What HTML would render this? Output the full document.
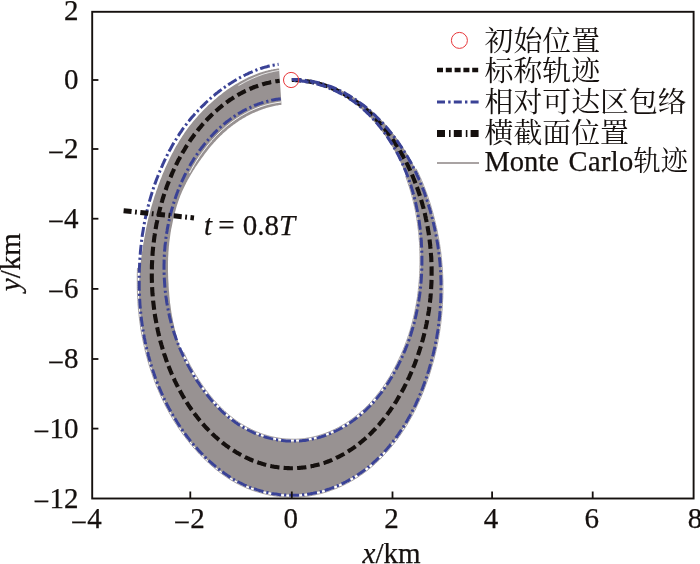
<!DOCTYPE html>
<html><head><meta charset="utf-8"><title>相对可达区</title>
<style>
html,body{margin:0;padding:0;background:#fff;}
svg{display:block;}
.n{font-family:"Liberation Serif","Noto Serif CJK SC",serif;font-size:29px;fill:#15100e;stroke:#15100e;stroke-width:0.25px;}
.c{font-family:"Liberation Serif","Noto Serif CJK SC",serif;font-size:28.9px;fill:#15100e;}
</style></head><body>
<svg width="700" height="564" viewBox="0 0 700 564">
<rect width="700" height="564" fill="#fff"/>
<path d="M291.8,79.1 L293.0,79.1 L294.3,79.1 L295.5,79.1 L296.7,79.2 L297.9,79.2 L299.2,79.3 L300.4,79.4 L301.6,79.4 L302.8,79.5 L304.1,79.7 L305.3,79.8 L306.5,79.9 L307.8,80.1 L309.0,80.3 L310.2,80.4 L311.4,80.6 L312.6,80.9 L313.9,81.1 L315.1,81.3 L316.3,81.6 L317.5,81.9 L318.7,82.2 L320.0,82.5 L321.2,82.8 L322.4,83.1 L323.6,83.5 L324.8,83.8 L326.0,84.2 L327.2,84.6 L328.4,85.0 L329.6,85.4 L330.8,85.9 L332.0,86.3 L333.2,86.8 L334.4,87.2 L335.5,87.7 L336.7,88.3 L337.9,88.8 L339.1,89.3 L340.3,89.9 L341.4,90.4 L342.6,91.0 L343.8,91.6 L344.9,92.2 L346.1,92.8 L347.2,93.5 L348.4,94.1 L349.5,94.8 L350.6,95.4 L351.8,96.1 L352.9,96.8 L354.0,97.5 L355.2,98.3 L356.3,99.0 L357.4,99.8 L358.5,100.5 L359.6,101.3 L360.7,102.1 L361.8,102.9 L362.9,103.7 L364.0,104.5 L365.1,105.4 L366.2,106.2 L367.2,107.1 L368.3,108.0 L369.4,108.8 L370.4,109.7 L371.5,110.6 L372.6,111.6 L373.6,112.5 L374.6,113.4 L375.7,114.4 L376.7,115.4 L377.7,116.4 L378.8,117.3 L379.8,118.4 L380.8,119.4 L381.8,120.4 L382.8,121.5 L383.7,122.5 L384.7,123.6 L385.7,124.7 L386.7,125.8 L387.6,126.9 L388.6,128.0 L389.5,129.1 L390.5,130.2 L391.4,131.4 L392.3,132.6 L393.2,133.7 L394.2,134.9 L395.1,136.1 L396.0,137.3 L396.9,138.5 L397.7,139.7 L398.6,141.0 L399.5,142.2 L400.4,143.4 L401.2,144.7 L402.1,146.0 L402.9,147.2 L403.8,148.5 L404.6,149.8 L405.5,151.1 L406.3,152.4 L407.1,153.8 L407.9,155.1 L408.7,156.5 L409.5,157.8 L410.3,159.2 L411.0,160.6 L411.8,161.9 L412.6,163.3 L413.3,164.7 L414.1,166.2 L414.8,167.6 L415.5,169.0 L416.2,170.5 L416.9,171.9 L417.6,173.4 L418.3,174.9 L419.0,176.3 L419.7,177.8 L420.3,179.3 L421.0,180.8 L421.6,182.4 L422.3,183.9 L422.9,185.4 L423.5,187.0 L424.1,188.5 L424.7,190.1 L425.3,191.6 L425.9,193.2 L426.4,194.8 L427.0,196.4 L427.5,198.0 L428.1,199.6 L428.6,201.2 L429.1,202.8 L429.6,204.4 L430.1,206.0 L430.6,207.7 L431.1,209.3 L431.5,211.0 L432.0,212.6 L432.4,214.3 L432.9,216.0 L433.3,217.6 L433.7,219.3 L434.2,221.0 L434.6,222.7 L435.0,224.4 L435.3,226.1 L435.7,227.8 L436.1,229.5 L436.5,231.2 L436.8,232.9 L437.1,234.6 L437.5,236.3 L437.8,238.1 L438.1,239.8 L438.4,241.6 L438.7,243.3 L439.0,245.1 L439.2,246.8 L439.5,248.6 L439.8,250.3 L440.0,252.1 L440.2,253.9 L440.4,255.6 L440.6,257.4 L440.8,259.2 L441.0,261.0 L441.2,262.8 L441.3,264.6 L441.4,266.4 L441.6,268.2 L441.7,270.0 L441.8,271.8 L441.9,273.6 L442.0,275.4 L442.0,277.2 L442.1,279.0 L442.2,280.8 L442.2,282.6 L442.2,284.5 L442.2,286.3 L442.2,288.1 L442.2,289.9 L442.2,291.7 L442.2,293.5 L442.1,295.4 L442.1,297.2 L442.0,299.0 L441.9,300.8 L441.8,302.7 L441.7,304.5 L441.6,306.3 L441.5,308.1 L441.4,309.9 L441.2,311.8 L441.1,313.6 L440.9,315.4 L440.7,317.2 L440.5,319.0 L440.3,320.9 L440.1,322.7 L439.9,324.5 L439.6,326.3 L439.4,328.1 L439.1,329.9 L438.9,331.7 L438.6,333.5 L438.3,335.3 L438.0,337.1 L437.7,338.9 L437.3,340.7 L437.0,342.5 L436.6,344.3 L436.3,346.0 L435.9,347.8 L435.5,349.6 L435.1,351.4 L434.7,353.1 L434.2,354.9 L433.8,356.6 L433.4,358.4 L432.9,360.1 L432.4,361.9 L432.0,363.6 L431.5,365.4 L431.0,367.1 L430.4,368.8 L429.9,370.5 L429.4,372.2 L428.8,374.0 L428.3,375.7 L427.7,377.4 L427.1,379.0 L426.6,380.7 L426.0,382.4 L425.4,384.1 L424.7,385.8 L424.1,387.4 L423.5,389.1 L422.8,390.7 L422.2,392.4 L421.5,394.0 L420.8,395.7 L420.2,397.3 L419.5,398.9 L418.7,400.5 L418.0,402.1 L417.3,403.7 L416.5,405.3 L415.8,406.9 L415.0,408.5 L414.2,410.0 L413.4,411.6 L412.6,413.1 L411.8,414.6 L410.9,416.1 L410.1,417.6 L409.2,419.1 L408.3,420.6 L407.4,422.0 L406.5,423.5 L405.6,424.9 L404.6,426.3 L403.7,427.7 L402.7,429.1 L401.8,430.5 L400.8,431.9 L399.8,433.3 L398.8,434.6 L397.8,435.9 L396.8,437.3 L395.8,438.6 L394.8,439.9 L393.7,441.2 L392.7,442.4 L391.6,443.7 L390.6,444.9 L389.5,446.2 L388.4,447.4 L387.3,448.6 L386.3,449.8 L385.1,450.9 L384.0,452.1 L382.9,453.3 L381.8,454.4 L380.7,455.5 L379.5,456.6 L378.4,457.7 L377.2,458.8 L376.0,459.8 L374.9,460.9 L373.7,461.9 L372.5,462.9 L371.3,463.9 L370.2,464.9 L369.0,465.9 L367.8,466.8 L366.6,467.8 L365.3,468.7 L364.1,469.6 L362.9,470.5 L361.7,471.4 L360.5,472.2 L359.2,473.1 L358.0,473.9 L356.7,474.7 L355.5,475.5 L354.2,476.3 L352.9,477.1 L351.7,477.9 L350.4,478.6 L349.1,479.3 L347.8,480.0 L346.5,480.7 L345.3,481.4 L344.0,482.0 L342.7,482.7 L341.4,483.3 L340.0,483.9 L338.7,484.5 L337.4,485.1 L336.1,485.6 L334.8,486.2 L333.4,486.7 L332.1,487.2 L330.8,487.7 L329.4,488.2 L328.1,488.6 L326.7,489.1 L325.4,489.5 L324.0,489.9 L322.7,490.3 L321.3,490.7 L320.0,491.0 L318.6,491.4 L317.3,491.7 L315.9,492.0 L314.5,492.3 L313.2,492.5 L311.8,492.8 L310.4,493.0 L309.0,493.2 L307.7,493.5 L306.3,493.6 L304.9,493.8 L303.5,494.0 L302.2,494.1 L300.8,494.2 L299.4,494.3 L298.0,494.4 L296.6,494.5 L295.3,494.5 L293.9,494.5 L292.5,494.6 L291.1,494.5 L289.7,494.5 L288.4,494.5 L287.0,494.4 L285.6,494.4 L284.2,494.3 L282.8,494.2 L281.5,494.1 L280.1,493.9 L278.7,493.8 L277.3,493.6 L276.0,493.4 L274.6,493.2 L273.2,493.0 L271.8,492.8 L270.5,492.6 L269.1,492.3 L267.7,492.1 L266.3,491.8 L265.0,491.5 L263.6,491.2 L262.2,490.8 L260.9,490.5 L259.5,490.1 L258.1,489.7 L256.8,489.3 L255.4,488.9 L254.1,488.5 L252.7,488.0 L251.4,487.6 L250.0,487.1 L248.7,486.6 L247.3,486.1 L246.0,485.5 L244.7,485.0 L243.4,484.4 L242.0,483.8 L240.7,483.2 L239.4,482.5 L238.1,481.9 L236.8,481.2 L235.5,480.5 L234.2,479.8 L232.9,479.1 L231.6,478.3 L230.3,477.6 L229.0,476.8 L227.8,476.0 L226.5,475.1 L225.3,474.3 L224.0,473.5 L222.8,472.6 L221.5,471.7 L220.3,470.8 L219.1,469.9 L217.8,469.0 L216.6,468.0 L215.4,467.0 L214.2,466.1 L213.0,465.1 L211.9,464.1 L210.7,463.0 L209.5,462.0 L208.4,460.9 L207.2,459.9 L206.1,458.8 L204.9,457.7 L203.8,456.6 L202.7,455.4 L201.6,454.3 L200.5,453.2 L199.4,452.0 L198.3,450.8 L197.2,449.6 L196.1,448.4 L195.1,447.2 L194.0,446.0 L193.0,444.8 L191.9,443.5 L190.9,442.3 L189.9,441.0 L188.8,439.7 L187.8,438.5 L186.8,437.2 L185.8,435.8 L184.8,434.5 L183.9,433.2 L182.9,431.8 L181.9,430.5 L181.0,429.1 L180.0,427.7 L179.1,426.3 L178.2,424.9 L177.3,423.5 L176.3,422.1 L175.4,420.7 L174.6,419.2 L173.7,417.8 L172.8,416.3 L172.0,414.8 L171.1,413.3 L170.3,411.8 L169.4,410.3 L168.6,408.8 L167.8,407.3 L167.0,405.8 L166.2,404.2 L165.4,402.7 L164.7,401.1 L163.9,399.5 L163.1,397.9 L162.4,396.4 L161.7,394.8 L161.0,393.2 L160.3,391.5 L159.6,389.9 L158.9,388.3 L158.2,386.6 L157.5,385.0 L156.9,383.3 L156.2,381.7 L155.6,380.0 L155.0,378.3 L154.4,376.6 L153.8,375.0 L153.2,373.3 L152.6,371.6 L152.0,369.8 L151.5,368.1 L150.9,366.4 L150.4,364.7 L149.9,362.9 L149.4,361.2 L148.9,359.4 L148.4,357.7 L147.9,355.9 L147.5,354.2 L147.0,352.4 L146.6,350.6 L146.2,348.8 L145.7,347.1 L145.3,345.3 L144.9,343.5 L144.6,341.7 L144.2,339.9 L143.8,338.1 L143.5,336.3 L143.1,334.5 L142.8,332.6 L142.5,330.8 L142.2,329.0 L141.9,327.2 L141.7,325.3 L141.4,323.5 L141.1,321.7 L140.9,319.8 L140.7,318.0 L140.5,316.2 L140.3,314.3 L140.1,312.5 L139.9,310.6 L139.7,308.8 L139.6,306.9 L139.5,305.1 L139.3,303.2 L139.2,301.4 L139.1,299.5 L139.1,297.7 L139.0,295.8 L139.0,294.0 L139.0,292.1 L139.0,290.3 L139.0,288.4 L139.0,286.6 L139.1,284.7 L139.2,282.9 L139.2,281.0 L139.3,279.2 L139.4,277.3 L139.6,275.5 L139.7,273.7 L139.8,271.8 L140.0,270.0 L140.2,268.2 L140.3,266.3 L140.5,264.5 L140.7,262.7 L140.9,260.9 L141.1,259.0 L141.4,257.2 L141.6,255.4 L141.9,253.6 L142.1,251.8 L142.4,250.0 L142.7,248.2 L142.9,246.4 L143.2,244.6 L143.5,242.8 L143.8,241.0 L144.1,239.2 L144.5,237.4 L144.8,235.7 L145.1,233.9 L145.5,232.1 L145.8,230.3 L146.1,228.6 L146.5,226.8 L146.9,225.1 L147.2,223.3 L147.6,221.6 L148.0,219.8 L148.4,218.1 L148.8,216.4 L149.3,214.6 L149.7,212.9 L150.2,211.2 L150.6,209.5 L151.1,207.8 L151.6,206.1 L152.1,204.4 L152.6,202.7 L153.1,201.1 L153.6,199.4 L154.1,197.7 L154.6,196.1 L155.2,194.4 L155.8,192.8 L156.3,191.1 L156.9,189.5 L157.5,187.9 L158.0,186.2 L158.6,184.6 L159.2,183.0 L159.8,181.4 L160.4,179.8 L161.1,178.2 L161.7,176.7 L162.3,175.1 L162.9,173.5 L163.6,171.9 L164.3,170.4 L164.9,168.8 L165.6,167.3 L166.3,165.8 L167.0,164.2 L167.7,162.7 L168.4,161.2 L169.1,159.7 L169.8,158.2 L170.5,156.7 L171.3,155.3 L172.0,153.8 L172.8,152.4 L173.6,150.9 L174.3,149.5 L175.1,148.1 L175.9,146.6 L176.7,145.2 L177.6,143.9 L178.4,142.5 L179.2,141.1 L180.0,139.7 L180.9,138.4 L181.8,137.1 L182.6,135.7 L183.5,134.4 L184.4,133.1 L185.3,131.8 L186.2,130.6 L187.1,129.3 L188.0,128.1 L188.9,126.8 L189.9,125.6 L190.8,124.4 L191.8,123.2 L192.7,122.0 L193.7,120.8 L194.7,119.7 L195.7,118.5 L196.7,117.4 L197.7,116.3 L198.7,115.1 L199.7,114.0 L200.7,113.0 L201.7,111.9 L202.8,110.8 L203.8,109.8 L204.8,108.7 L205.9,107.7 L206.9,106.7 L208.0,105.6 L209.1,104.6 L210.1,103.7 L211.2,102.7 L212.3,101.7 L213.4,100.8 L214.5,99.8 L215.6,98.9 L216.7,97.9 L217.8,97.0 L218.9,96.1 L220.0,95.2 L221.1,94.4 L222.2,93.5 L223.4,92.6 L224.5,91.8 L225.6,91.0 L226.8,90.1 L227.9,89.3 L229.1,88.5 L230.2,87.8 L231.4,87.0 L232.5,86.3 L233.7,85.5 L234.9,84.8 L236.0,84.1 L237.2,83.4 L238.4,82.7 L239.6,82.0 L240.8,81.3 L242.0,80.7 L243.2,80.0 L244.4,79.4 L245.6,78.8 L246.8,78.2 L248.0,77.6 L249.2,77.0 L250.4,76.5 L251.6,75.9 L252.9,75.4 L254.1,74.9 L255.3,74.4 L256.6,73.9 L257.8,73.5 L259.0,73.0 L260.3,72.6 L261.5,72.2 L262.8,71.8 L264.0,71.4 L265.3,71.1 L266.5,70.8 L267.8,70.4 L269.0,70.1 L270.3,69.9 L271.5,69.6 L272.8,69.4 L274.1,69.1 L275.3,68.9 L276.6,68.7 L277.8,68.5 L279.1,68.4 L281.5,104.8 L280.4,105.0 L279.4,105.1 L278.3,105.3 L277.3,105.4 L276.3,105.6 L275.3,105.8 L274.2,106.0 L273.2,106.2 L272.2,106.5 L271.2,106.7 L270.1,107.0 L269.1,107.2 L268.1,107.5 L267.1,107.8 L266.1,108.1 L265.1,108.4 L264.1,108.7 L263.1,109.1 L262.1,109.4 L261.1,109.8 L260.1,110.2 L259.1,110.6 L258.1,111.0 L257.1,111.4 L256.1,111.8 L255.1,112.2 L254.1,112.7 L253.1,113.1 L252.1,113.6 L251.1,114.1 L250.1,114.6 L249.2,115.1 L248.2,115.6 L247.2,116.1 L246.2,116.6 L245.3,117.2 L244.3,117.7 L243.3,118.3 L242.4,118.8 L241.4,119.4 L240.4,120.0 L239.5,120.6 L238.5,121.3 L237.6,121.9 L236.7,122.5 L235.7,123.2 L234.8,123.9 L233.8,124.5 L232.9,125.2 L232.0,125.9 L231.1,126.6 L230.1,127.4 L229.2,128.1 L228.3,128.8 L227.4,129.6 L226.5,130.4 L225.6,131.2 L224.7,131.9 L223.8,132.7 L222.9,133.6 L222.1,134.4 L221.2,135.2 L220.3,136.1 L219.4,136.9 L218.6,137.8 L217.7,138.7 L216.9,139.6 L216.0,140.5 L215.2,141.4 L214.3,142.3 L213.5,143.2 L212.7,144.2 L211.9,145.1 L211.1,146.1 L210.2,147.1 L209.4,148.0 L208.6,149.0 L207.8,150.0 L207.1,151.0 L206.3,152.1 L205.5,153.1 L204.7,154.1 L203.9,155.2 L203.2,156.2 L202.4,157.3 L201.6,158.3 L200.8,159.4 L200.1,160.5 L199.3,161.6 L198.5,162.7 L197.8,163.8 L197.0,164.9 L196.3,166.0 L195.5,167.1 L194.8,168.2 L194.1,169.4 L193.3,170.5 L192.6,171.7 L191.9,172.9 L191.2,174.1 L190.5,175.3 L189.8,176.5 L189.1,177.7 L188.4,178.9 L187.7,180.1 L187.1,181.4 L186.4,182.6 L185.8,183.9 L185.2,185.1 L184.5,186.4 L183.9,187.7 L183.3,189.0 L182.7,190.3 L182.1,191.6 L181.5,192.9 L181.0,194.3 L180.4,195.6 L179.9,197.0 L179.4,198.3 L178.9,199.7 L178.4,201.1 L177.9,202.4 L177.5,203.8 L177.0,205.2 L176.6,206.6 L176.2,208.1 L175.8,209.5 L175.4,210.9 L175.0,212.3 L174.6,213.8 L174.2,215.2 L173.9,216.6 L173.5,218.1 L173.2,219.5 L172.9,221.0 L172.6,222.5 L172.3,223.9 L172.0,225.4 L171.7,226.9 L171.4,228.3 L171.1,229.8 L170.9,231.3 L170.6,232.8 L170.4,234.3 L170.2,235.8 L170.0,237.3 L169.8,238.8 L169.6,240.3 L169.4,241.8 L169.2,243.3 L169.1,244.8 L168.9,246.3 L168.8,247.8 L168.7,249.3 L168.6,250.8 L168.4,252.4 L168.4,253.9 L168.3,255.4 L168.2,256.9 L168.1,258.4 L168.1,259.9 L168.0,261.5 L168.0,263.0 L168.0,264.5 L168.0,266.0 L168.0,267.5 L168.0,269.1 L168.0,270.6 L168.0,272.1 L168.1,273.6 L168.1,275.1 L168.2,276.6 L168.2,278.2 L168.3,279.7 L168.4,281.2 L168.5,282.7 L168.6,284.2 L168.6,285.7 L168.7,287.2 L168.8,288.7 L168.9,290.2 L169.1,291.7 L169.2,293.2 L169.3,294.7 L169.4,296.2 L169.6,297.7 L169.7,299.2 L169.9,300.7 L170.0,302.2 L170.2,303.7 L170.4,305.1 L170.6,306.6 L170.8,308.1 L171.0,309.6 L171.2,311.0 L171.4,312.5 L171.7,313.9 L171.9,315.4 L172.2,316.8 L172.5,318.3 L172.8,319.7 L173.0,321.2 L173.3,322.6 L173.7,324.0 L174.0,325.4 L174.3,326.9 L174.6,328.3 L175.0,329.7 L175.3,331.1 L175.7,332.5 L176.0,333.9 L176.4,335.3 L176.8,336.7 L177.1,338.1 L177.5,339.4 L177.9,340.8 L178.3,342.2 L178.8,343.5 L179.2,344.9 L179.6,346.2 L180.1,347.6 L180.5,348.9 L181.0,350.2 L181.5,351.6 L182.0,352.9 L182.5,354.2 L183.0,355.5 L183.5,356.7 L184.0,358.0 L184.6,359.3 L185.2,360.5 L185.7,361.8 L186.3,363.0 L186.9,364.2 L187.6,365.4 L188.2,366.6 L188.8,367.8 L189.5,369.0 L190.1,370.2 L190.8,371.4 L191.5,372.5 L192.1,373.7 L192.8,374.8 L193.5,376.0 L194.2,377.1 L194.9,378.2 L195.6,379.3 L196.3,380.4 L197.0,381.5 L197.7,382.6 L198.5,383.7 L199.2,384.8 L199.9,385.9 L200.7,386.9 L201.4,388.0 L202.2,389.0 L202.9,390.1 L203.7,391.1 L204.4,392.1 L205.2,393.1 L206.0,394.1 L206.8,395.1 L207.5,396.1 L208.3,397.1 L209.1,398.1 L209.9,399.1 L210.7,400.0 L211.5,401.0 L212.4,401.9 L213.2,402.9 L214.0,403.8 L214.8,404.7 L215.7,405.6 L216.5,406.5 L217.3,407.4 L218.2,408.3 L219.1,409.1 L219.9,410.0 L220.8,410.8 L221.7,411.7 L222.5,412.5 L223.4,413.3 L224.3,414.1 L225.2,414.9 L226.1,415.7 L227.0,416.5 L227.9,417.2 L228.8,418.0 L229.7,418.7 L230.6,419.4 L231.6,420.1 L232.5,420.8 L233.4,421.5 L234.4,422.2 L235.3,422.9 L236.3,423.5 L237.2,424.2 L238.2,424.8 L239.1,425.4 L240.1,426.0 L241.1,426.6 L242.0,427.2 L243.0,427.8 L244.0,428.3 L245.0,428.9 L245.9,429.4 L246.9,429.9 L247.9,430.5 L248.9,431.0 L249.9,431.5 L250.9,431.9 L251.9,432.4 L252.9,432.9 L253.9,433.3 L254.9,433.7 L255.9,434.1 L256.9,434.6 L258.0,435.0 L259.0,435.3 L260.0,435.7 L261.0,436.1 L262.0,436.4 L263.1,436.8 L264.1,437.1 L265.1,437.4 L266.2,437.7 L267.2,438.0 L268.2,438.3 L269.3,438.6 L270.3,438.9 L271.3,439.1 L272.4,439.4 L273.4,439.6 L274.5,439.8 L275.5,440.0 L276.5,440.2 L277.6,440.4 L278.6,440.5 L279.7,440.7 L280.7,440.8 L281.8,441.0 L282.8,441.1 L283.9,441.2 L284.9,441.3 L286.0,441.4 L287.1,441.4 L288.1,441.5 L289.2,441.5 L290.2,441.6 L291.3,441.6 L292.3,441.6 L293.4,441.6 L294.4,441.6 L295.5,441.6 L296.6,441.6 L297.6,441.5 L298.7,441.5 L299.7,441.4 L300.8,441.3 L301.8,441.2 L302.9,441.1 L303.9,441.0 L305.0,440.9 L306.0,440.7 L307.1,440.6 L308.1,440.4 L309.2,440.2 L310.2,440.0 L311.3,439.8 L312.3,439.6 L313.4,439.4 L314.4,439.2 L315.5,438.9 L316.5,438.6 L317.6,438.4 L318.6,438.1 L319.6,437.8 L320.7,437.5 L321.7,437.1 L322.7,436.8 L323.8,436.5 L324.8,436.1 L325.8,435.7 L326.8,435.4 L327.9,435.0 L328.9,434.6 L329.9,434.1 L330.9,433.7 L331.9,433.3 L332.9,432.8 L333.9,432.4 L335.0,431.9 L336.0,431.4 L337.0,430.9 L338.0,430.4 L339.0,429.9 L340.0,429.4 L340.9,428.9 L341.9,428.3 L342.9,427.7 L343.9,427.2 L344.9,426.6 L345.9,426.0 L346.8,425.4 L347.8,424.8 L348.8,424.1 L349.7,423.5 L350.7,422.9 L351.7,422.2 L352.6,421.5 L353.6,420.8 L354.5,420.1 L355.4,419.4 L356.4,418.7 L357.3,418.0 L358.2,417.3 L359.2,416.5 L360.1,415.7 L361.0,415.0 L361.9,414.2 L362.8,413.4 L363.7,412.6 L364.6,411.8 L365.5,410.9 L366.4,410.1 L367.3,409.2 L368.2,408.4 L369.0,407.5 L369.9,406.6 L370.7,405.7 L371.6,404.8 L372.4,403.9 L373.2,402.9 L374.1,402.0 L374.9,401.0 L375.7,400.0 L376.5,399.0 L377.2,398.0 L378.0,397.0 L378.8,396.0 L379.6,394.9 L380.3,393.9 L381.1,392.9 L381.8,391.8 L382.6,390.7 L383.3,389.6 L384.0,388.5 L384.7,387.4 L385.4,386.3 L386.1,385.2 L386.8,384.1 L387.5,383.0 L388.2,381.8 L388.9,380.7 L389.6,379.5 L390.2,378.3 L390.9,377.2 L391.5,376.0 L392.2,374.8 L392.8,373.6 L393.4,372.4 L394.1,371.2 L394.7,370.0 L395.3,368.7 L395.9,367.5 L396.5,366.3 L397.1,365.0 L397.7,363.8 L398.3,362.5 L398.9,361.3 L399.4,360.0 L400.0,358.7 L400.6,357.5 L401.2,356.2 L401.7,354.9 L402.3,353.6 L402.9,352.3 L403.4,351.0 L403.9,349.7 L404.5,348.4 L405.0,347.0 L405.5,345.7 L406.1,344.4 L406.6,343.0 L407.1,341.7 L407.5,340.3 L408.0,338.9 L408.5,337.6 L409.0,336.2 L409.4,334.8 L409.9,333.4 L410.3,332.0 L410.7,330.6 L411.2,329.2 L411.6,327.8 L412.0,326.3 L412.4,324.9 L412.8,323.5 L413.1,322.0 L413.5,320.6 L413.9,319.1 L414.2,317.7 L414.6,316.2 L414.9,314.7 L415.2,313.3 L415.5,311.8 L415.8,310.3 L416.1,308.8 L416.4,307.3 L416.7,305.8 L417.0,304.3 L417.2,302.8 L417.5,301.3 L417.7,299.8 L417.9,298.3 L418.2,296.8 L418.4,295.3 L418.6,293.7 L418.8,292.2 L419.0,290.7 L419.1,289.1 L419.3,287.6 L419.5,286.1 L419.6,284.5 L419.7,283.0 L419.9,281.4 L420.0,279.9 L420.1,278.3 L420.2,276.8 L420.3,275.2 L420.4,273.6 L420.4,272.1 L420.5,270.5 L420.6,269.0 L420.6,267.4 L420.6,265.8 L420.7,264.2 L420.7,262.7 L420.7,261.1 L420.7,259.5 L420.7,257.9 L420.7,256.4 L420.7,254.8 L420.6,253.2 L420.6,251.6 L420.5,250.1 L420.5,248.5 L420.4,246.9 L420.3,245.3 L420.3,243.7 L420.2,242.1 L420.0,240.6 L419.9,239.0 L419.8,237.4 L419.7,235.8 L419.5,234.2 L419.4,232.7 L419.2,231.1 L419.0,229.5 L418.8,227.9 L418.6,226.3 L418.4,224.8 L418.2,223.2 L418.0,221.6 L417.7,220.1 L417.5,218.5 L417.2,216.9 L417.0,215.4 L416.7,213.8 L416.4,212.2 L416.1,210.7 L415.8,209.1 L415.4,207.6 L415.1,206.0 L414.8,204.5 L414.4,202.9 L414.1,201.4 L413.7,199.9 L413.3,198.3 L412.9,196.8 L412.5,195.3 L412.1,193.8 L411.7,192.3 L411.2,190.8 L410.8,189.3 L410.3,187.8 L409.9,186.3 L409.4,184.8 L408.9,183.3 L408.4,181.8 L407.9,180.4 L407.3,178.9 L406.8,177.4 L406.3,176.0 L405.7,174.6 L405.2,173.1 L404.6,171.7 L404.0,170.3 L403.4,168.9 L402.8,167.5 L402.2,166.1 L401.6,164.7 L400.9,163.3 L400.3,161.9 L399.6,160.5 L399.0,159.2 L398.3,157.8 L397.6,156.5 L396.9,155.1 L396.2,153.8 L395.5,152.5 L394.8,151.2 L394.1,149.9 L393.3,148.6 L392.6,147.3 L391.8,146.0 L391.1,144.8 L390.3,143.5 L389.5,142.3 L388.7,141.0 L387.9,139.8 L387.1,138.6 L386.3,137.4 L385.5,136.2 L384.6,135.0 L383.8,133.9 L382.9,132.7 L382.1,131.6 L381.2,130.4 L380.3,129.3 L379.5,128.2 L378.6,127.1 L377.7,126.0 L376.8,124.9 L375.9,123.8 L375.0,122.7 L374.0,121.7 L373.1,120.6 L372.2,119.6 L371.3,118.6 L370.3,117.6 L369.3,116.6 L368.4,115.6 L367.4,114.6 L366.4,113.6 L365.5,112.7 L364.5,111.8 L363.5,110.8 L362.5,109.9 L361.5,109.0 L360.5,108.2 L359.4,107.3 L358.4,106.4 L357.4,105.6 L356.3,104.8 L355.3,104.0 L354.2,103.2 L353.2,102.4 L352.1,101.6 L351.0,100.9 L350.0,100.1 L348.9,99.4 L347.8,98.7 L346.7,98.0 L345.6,97.3 L344.5,96.6 L343.4,96.0 L342.3,95.3 L341.2,94.7 L340.1,94.1 L339.0,93.5 L337.8,92.9 L336.7,92.3 L335.6,91.7 L334.4,91.2 L333.3,90.7 L332.2,90.1 L331.0,89.6 L329.9,89.1 L328.7,88.7 L327.6,88.2 L326.4,87.7 L325.2,87.3 L324.1,86.9 L322.9,86.5 L321.7,86.1 L320.5,85.7 L319.4,85.3 L318.2,85.0 L317.0,84.6 L315.8,84.3 L314.6,84.0 L313.5,83.7 L312.3,83.4 L311.1,83.1 L309.9,82.9 L308.7,82.6 L307.5,82.4 L306.3,82.2 L305.1,82.0 L303.9,81.8 L302.7,81.7 L301.5,81.5 L300.3,81.4 L299.1,81.3 L297.8,81.1 L296.6,81.1 L295.4,81.0 L294.2,80.9 L293.0,80.9 L291.8,80.9Z" fill="#989292"/>
<path d="M416.1,168.7 L416.9,170.2 L417.6,171.6 L418.3,173.1 L419.0,174.6 L419.6,176.1 L420.3,177.5 L421.0,179.1 L421.6,180.6 L422.3,182.1 L422.9,183.6 L423.5,185.2 L424.1,186.7 L424.8,188.3 L425.3,189.8 L425.9,191.4 L426.5,193.0 L427.1,194.6 L427.6,196.1 L428.2,197.7 L428.7,199.4 L429.2,201.0 L429.8,202.6 L430.3,204.2 L430.8,205.8 L431.3,207.5 L431.7,209.1 L432.2,210.8 L432.7,212.4 L433.1,214.1 L433.6,215.8 L434.0,217.4 L434.4,219.1 L434.8,220.8 L435.2,222.5 L435.6,224.2 L436.0,225.9 L436.4,227.6 L436.8,229.3 L437.1,231.0 L437.5,232.8 L437.8,234.5 L438.2,236.2 L438.5,237.9 L438.8,239.7 L439.1,241.4 L439.4,243.2 L439.7,244.9 L439.9,246.7 L440.2,248.5 L440.4,250.2 L440.7,252.0 L440.9,253.8 L441.1,255.6 L441.3,257.4 L441.5,259.1 L441.7,260.9 L441.8,262.7 L442.0,264.5 L442.1,266.3 L442.3,268.1 L442.4,269.9 L442.5,271.7 L442.6,273.6 L442.7,275.4 L442.7,277.2 L442.8,279.0 L442.9,280.8 L442.9,282.6 L442.9,284.4 L442.9,286.3 L442.9,288.1 L442.9,289.9 L442.9,291.7 L442.9,293.6 L442.8,295.4 L442.8,297.2 L442.7,299.0 L442.6,300.9 L442.5,302.7 L442.4,304.5 L442.3,306.3 L442.2,308.2 L442.1,310.0 L441.9,311.8 L441.8,313.6 L441.6,315.5 L441.4,317.3 L441.2,319.1 L441.0,320.9 L440.8,322.8 L440.6,324.6 L440.3,326.4 L440.1,328.2 L439.8,330.0 L439.6,331.8 L439.3,333.6 L439.0,335.4 L438.7,337.2 L438.3,339.0 L438.0,340.8 L437.7,342.6 L437.3,344.4 L436.9,346.2 L436.6,348.0 L436.2,349.7 L435.8,351.5 L435.4,353.3 L434.9,355.1 L434.5,356.8 L434.0,358.6 L433.6,360.3 L433.1,362.1 L432.6,363.8 L432.1,365.6 L431.6,367.3 L431.1,369.0 L430.6,370.7 L430.1,372.5 L429.5,374.2 L429.0,375.9 L428.4,377.6 L427.8,379.3 L427.2,381.0 L426.6,382.7 L426.0,384.3 L425.4,386.0 L424.8,387.7 L424.1,389.3 L423.5,391.0 L422.8,392.7 L422.2,394.3 L421.5,395.9 L420.8,397.6 L420.1,399.2 L419.4,400.8 L418.7,402.4 L417.9,404.0 L417.2,405.6 L416.4,407.2 L415.7,408.8 L414.9,410.4 L414.1,411.9 L413.3,413.5 L412.5,415.0 L411.7,416.5 L410.8,418.0 L410.0,419.5 L409.1,421.0 L408.2,422.5 L407.4,424.0 L406.5,425.5 L405.6,426.9 L404.7,428.4 L403.7,429.8 L402.8,431.2 L401.9,432.6 L400.9,434.0 L400.0,435.4 L399.0,436.8 L398.0,438.1 L397.0,439.5 L396.0,440.8 L395.0,442.1 L394.0,443.4 L393.0,444.7 L391.9,446.0 L390.9,447.3 L389.8,448.5 L388.8,449.8 L387.7,451.0 L386.6,452.2 L385.5,453.4 L384.4,454.6 L383.3,455.8 L382.2,457.0 L381.0,458.1 L379.9,459.3 L378.8,460.4 L377.6,461.5 L376.5,462.6 L375.3,463.6 L374.1,464.7 L372.9,465.7 L371.7,466.7 L370.5,467.8 L369.3,468.7 L368.1,469.7 L366.9,470.7 L365.6,471.6 L364.4,472.5 L363.2,473.4 L361.9,474.3 L360.6,475.2 L359.4,476.0 L358.1,476.9 L356.8,477.7 L355.5,478.5 L354.3,479.3 L353.0,480.0 L351.7,480.8 L350.4,481.5 L349.1,482.3 L347.7,483.0 L346.4,483.7 L345.1,484.3 L343.8,485.0 L342.5,485.6 L341.1,486.3 L339.8,486.9 L338.4,487.4 L337.1,488.0 L335.7,488.6 L334.4,489.1 L333.0,489.6 L331.6,490.1 L330.3,490.6 L328.9,491.1 L327.5,491.6 L326.2,492.0 L324.8,492.4 L323.4,492.8 L322.0,493.2 L320.6,493.6 L319.2,493.9 L317.8,494.2 L316.4,494.5 L315.1,494.8 L313.7,495.1 L312.3,495.4 L310.9,495.6 L309.4,495.9 L308.0,496.1 L306.6,496.3 L305.2,496.4 L303.8,496.6 L302.4,496.7 L301.0,496.9 L299.6,497.0 L298.2,497.0 L296.8,497.1 L295.3,497.2 L293.9,497.2 L292.5,497.2 L291.1,497.2 L289.7,497.2 L288.3,497.2 L286.9,497.1 L285.4,497.0 L284.0,496.9 L282.6,496.8 L281.2,496.7 L279.8,496.6 L278.4,496.4 L277.0,496.2 L275.6,496.0 L274.2,495.8 L272.8,495.6 L271.4,495.3 L270.0,495.1 L268.6,494.8 L267.2,494.5 L265.8,494.2 L264.4,493.8 L263.0,493.5 L261.6,493.1 L260.2,492.7 L258.8,492.3 L257.5,491.9 L256.1,491.5 L254.7,491.0 L253.3,490.6 L252.0,490.1 L250.6,489.6 L249.3,489.1 L247.9,488.5 L246.5,488.0 L245.2,487.4 L243.9,486.8 L242.5,486.2 L241.2,485.5 L239.8,484.9 L238.5,484.2 L237.2,483.5 L235.9,482.8 L234.6,482.1 L233.3,481.3 L232.0,480.6 L230.7,479.8 L229.4,479.0 L228.1,478.2 L226.9,477.3 L225.6,476.5 L224.3,475.6 L223.1,474.7 L221.8,473.8 L220.6,472.9 L219.4,472.0 L218.2,471.0 L216.9,470.1 L215.7,469.1 L214.5,468.1 L213.3,467.1 L212.1,466.1 L211.0,465.1 L209.8,464.0 L208.6,463.0 L207.5,461.9 L206.3,460.8 L205.2,459.7 L204.0,458.6 L202.9,457.5 L201.8,456.4 L200.7,455.2 L199.5,454.1 L198.4,452.9 L197.3,451.7 L196.3,450.5 L195.2,449.3 L194.1,448.1 L193.0,446.9 L192.0,445.6 L190.9,444.4 L189.9,443.1 L188.8,441.8 L187.8,440.6 L186.8,439.3 L185.8,437.9 L184.8,436.6 L183.8,435.3 L182.8,434.0 L181.8,432.6 L180.9,431.2 L179.9,429.9 L179.0,428.5 L178.0,427.1 L177.1,425.6 L176.2,424.2 L175.2,422.8 L174.3,421.4 L173.4,419.9 L172.6,418.4 L171.7,417.0 L170.8,415.5 L170.0,414.0 L169.1,412.5 L168.3,411.0 L167.5,409.4 L166.6,407.9 L165.8,406.4 L165.0,404.8 L164.3,403.2 L163.5,401.7 L162.7,400.1 L162.0,398.5 L161.2,396.9 L160.5,395.3 L159.8,393.7 L159.1,392.1 L158.4,390.4 L157.7,388.8 L157.0,387.1 L156.3,385.5 L155.7,383.8 L155.0,382.1 L154.4,380.5 L153.8,378.8 L153.1,377.1 L152.5,375.4 L152.0,373.7 L151.4,372.0 L150.8,370.2 L150.3,368.5 L149.7,366.8 L149.2,365.0 L148.7,363.3 L148.1,361.5 L147.6,359.8 L147.2,358.0 L146.7,356.3 L146.2,354.5 L145.8,352.7 L145.3,350.9 L144.9,349.1 L144.5,347.4 L144.1,345.6 L143.7,343.8 L143.3,341.9 L142.9,340.1 L142.6,338.3 L142.2,336.5 L141.9,334.7 L141.5,332.9 L141.2,331.0 L140.9,329.2 L140.6,327.4 L140.4,325.5 L140.1,323.7 L139.9,321.9 L139.6,320.0 L139.4,318.2 L139.2,316.3 L139.0,314.5 L138.8,312.6 L138.6,310.8 L138.4,308.9 L138.3,307.1 L138.1,305.2 L138.0,303.3 L137.9,301.5 L137.8,299.6 L137.7,297.8 L137.6,295.9 L137.5,294.0 L137.4,292.2 L137.4,290.3 L137.3,288.5 L137.3,286.6 L137.3,284.8 L137.3,282.9 L137.3,281.0 L137.3,279.2 L137.3,277.3 L137.3,275.5 L137.3,273.6 L137.4,271.8 L137.4,269.9 L137.5,268.1" fill="none" stroke="#989292" stroke-width="0.9"/>
<path d="M405.6,176.2 L406.2,177.7 L406.7,179.1 L407.2,180.6 L407.7,182.1 L408.2,183.5 L408.7,185.0 L409.2,186.5 L409.7,188.0 L410.1,189.5 L410.6,191.0 L411.0,192.5 L411.4,194.0 L411.8,195.5 L412.2,197.0 L412.6,198.5 L413.0,200.0 L413.4,201.6 L413.7,203.1 L414.1,204.6 L414.4,206.2 L414.8,207.7 L415.1,209.3 L415.4,210.8 L415.7,212.4 L416.0,213.9 L416.3,215.5 L416.5,217.0 L416.8,218.6 L417.0,220.2 L417.3,221.7 L417.5,223.3 L417.7,224.9 L417.9,226.4 L418.1,228.0 L418.3,229.6 L418.5,231.2 L418.7,232.7 L418.8,234.3 L419.0,235.9 L419.1,237.5 L419.2,239.0 L419.3,240.6 L419.5,242.2 L419.6,243.8 L419.6,245.3 L419.7,246.9 L419.8,248.5 L419.8,250.1 L419.9,251.7 L419.9,253.2 L420.0,254.8 L420.0,256.4 L420.0,258.0 L420.0,259.5 L420.0,261.1 L420.0,262.7 L420.0,264.2 L419.9,265.8 L419.9,267.4 L419.9,268.9 L419.8,270.5 L419.7,272.1 L419.7,273.6 L419.6,275.2 L419.5,276.7 L419.4,278.3 L419.3,279.8 L419.2,281.4 L419.0,282.9 L418.9,284.5 L418.8,286.0 L418.6,287.5 L418.4,289.1 L418.3,290.6 L418.1,292.1 L417.9,293.6 L417.7,295.2 L417.5,296.7 L417.3,298.2 L417.0,299.7 L416.8,301.2 L416.5,302.7 L416.3,304.2 L416.0,305.7 L415.7,307.2 L415.4,308.7 L415.2,310.2 L414.8,311.6 L414.5,313.1 L414.2,314.6 L413.9,316.0 L413.5,317.5 L413.2,319.0 L412.8,320.4 L412.5,321.8 L412.1,323.3 L411.7,324.7 L411.3,326.1 L410.9,327.6 L410.5,329.0 L410.1,330.4 L409.6,331.8 L409.2,333.2 L408.8,334.6 L408.3,335.9 L407.8,337.3 L407.4,338.7 L406.9,340.1 L406.4,341.4 L405.9,342.8 L405.4,344.1 L404.9,345.4 L404.4,346.8 L403.8,348.1 L403.3,349.4 L402.8,350.7 L402.2,352.0 L401.6,353.3 L401.1,354.6 L400.5,355.9 L399.9,357.1 L399.3,358.4 L398.7,359.7 L398.1,360.9 L397.5,362.2 L396.9,363.4 L396.3,364.6 L395.7,365.9 L395.0,367.1 L394.4,368.3 L393.8,369.5 L393.1,370.7 L392.5,371.9 L391.8,373.0 L391.1,374.2 L390.5,375.4 L389.8,376.5 L389.1,377.7 L388.4,378.8 L387.7,379.9 L387.0,381.0 L386.3,382.2 L385.6,383.3 L384.8,384.3 L384.1,385.4 L383.4,386.5 L382.6,387.6 L381.9,388.6 L381.1,389.7 L380.3,390.7 L379.6,391.7 L378.8,392.7 L378.0,393.7 L377.2,394.7 L376.4,395.7 L375.6,396.7 L374.8,397.7 L374.0,398.6 L373.2,399.5 L372.4,400.5 L371.6,401.4 L370.7,402.3 L369.9,403.2 L369.1,404.1 L368.2,405.0 L367.3,405.8 L366.5,406.7 L365.6,407.5 L364.8,408.4 L363.9,409.2 L363.0,410.0 L362.1,410.8 L361.2,411.6 L360.3,412.4 L359.5,413.1 L358.6,413.9 L357.6,414.6 L356.7,415.4 L355.8,416.1 L354.9,416.8 L354.0,417.5 L353.1,418.2 L352.1,418.9 L351.2,419.6 L350.3,420.2 L349.3,420.9 L348.4,421.5 L347.5,422.1 L346.5,422.8 L345.6,423.4 L344.6,424.0 L343.6,424.5 L342.7,425.1 L341.7,425.7 L340.8,426.2 L339.8,426.7 L338.8,427.3 L337.8,427.8 L336.9,428.3 L335.9,428.8 L334.9,429.3 L333.9,429.7 L332.9,430.2 L332.0,430.6 L331.0,431.1 L330.0,431.5 L329.0,431.9 L328.0,432.3 L327.0,432.7 L326.0,433.1 L325.0,433.5 L324.0,433.8 L323.0,434.2 L322.0,434.5 L321.0,434.9 L320.0,435.2 L318.9,435.5 L317.9,435.8 L316.9,436.1 L315.9,436.3 L314.9,436.6 L313.9,436.8 L312.9,437.1 L311.8,437.3 L310.8,437.5 L309.8,437.7 L308.8,437.9 L307.8,438.0 L306.7,438.2 L305.7,438.4 L304.7,438.5 L303.7,438.6 L302.6,438.7 L301.6,438.8 L300.6,438.9 L299.5,439.0 L298.5,439.1 L297.5,439.1 L296.5,439.2 L295.4,439.2 L294.4,439.2 L293.4,439.2 L292.3,439.2 L291.3,439.2 L290.3,439.2 L289.3,439.1 L288.2,439.1 L287.2,439.0 L286.2,439.0 L285.1,438.9 L284.1,438.8 L283.1,438.7 L282.1,438.6 L281.0,438.5 L280.0,438.3 L279.0,438.2 L278.0,438.0 L277.0,437.8 L275.9,437.6 L274.9,437.4 L273.9,437.2 L272.9,437.0 L271.9,436.8 L270.9,436.5 L269.9,436.3 L268.8,436.0 L267.8,435.7 L266.8,435.4 L265.8,435.1 L264.8,434.8 L263.8,434.5 L262.8,434.2 L261.8,433.8 L260.8,433.5 L259.8,433.1 L258.8,432.7 L257.8,432.3 L256.8,431.9 L255.9,431.5 L254.9,431.1 L253.9,430.7 L252.9,430.2 L251.9,429.8 L251.0,429.3 L250.0,428.8 L249.0,428.3 L248.0,427.8 L247.1,427.3 L246.1,426.8 L245.2,426.2 L244.2,425.7 L243.3,425.1 L242.3,424.6 L241.4,424.0 L240.4,423.4 L239.5,422.8 L238.5,422.2 L237.6,421.5 L236.7,420.9 L235.8,420.3 L234.8,419.6 L233.9,418.9 L233.0,418.2 L232.1,417.5 L231.2,416.8 L230.3,416.1 L229.4,415.4 L228.5,414.6 L227.7,413.9 L226.8,413.1 L225.9,412.3 L225.0,411.5 L224.2,410.7 L223.3,409.9 L222.4,409.1 L221.6,408.3 L220.8,407.4 L219.9,406.6 L219.1,405.7 L218.2,404.9 L217.4,404.0 L216.6,403.1 L215.8,402.2 L215.0,401.3 L214.2,400.4 L213.4,399.4 L212.6,398.5 L211.8,397.5 L211.0,396.6 L210.2,395.6 L209.4,394.6 L208.7,393.7 L207.9,392.7 L207.1,391.7 L206.4,390.7 L205.6,389.7 L204.9,388.7 L204.1,387.6 L203.4,386.6 L202.6,385.5 L201.9,384.5 L201.2,383.4 L200.5,382.4 L199.7,381.3 L199.0,380.2 L198.3,379.1 L197.6,378.0 L196.9,376.9 L196.3,375.8 L195.6,374.7 L194.9,373.6 L194.2,372.5 L193.5,371.3 L192.9,370.2 L192.2,369.0 L191.6,367.9 L190.9,366.7 L190.3,365.5 L189.6,364.3 L189.0,363.1 L188.4,362.0 L187.8,360.7 L187.1,359.5 L186.5,358.3 L185.9,357.1 L185.3,355.9 L184.8,354.6 L184.2,353.4 L183.6,352.1" fill="none" stroke="#989292" stroke-width="0.9"/>
<path d="M238.5,85.6 L239.7,84.9 L240.9,84.3 L242.0,83.6 L243.2,83.0 L244.4,82.3 L245.6,81.7 L246.7,81.1 L247.9,80.5 L249.1,79.9 L250.3,79.4 L251.5,78.8 L252.7,78.3 L253.9,77.8 L255.1,77.2 L256.3,76.8 L257.5,76.3 L258.7,75.8 L259.9,75.4 L261.1,74.9 L262.3,74.5 L263.5,74.1 L264.7,73.7 L265.9,73.4 L267.2,73.0 L268.4,72.7 L269.6,72.4 L270.8,72.1 L272.0,71.8 L273.3,71.5 L274.5,71.3 L275.7,71.0 L276.9,70.8 L278.2,70.6 L279.4,70.5" fill="none" stroke="#fff" stroke-width="0.8"/>
<path d="M189.5,173.2 L190.1,171.9 L190.8,170.7 L191.4,169.5 L192.1,168.3 L192.8,167.1 L193.5,165.9 L194.2,164.7 L194.9,163.6 L195.6,162.4 L196.3,161.3 L197.0,160.1 L197.8,159.0 L198.5,157.9 L199.2,156.7 L200.0,155.6 L200.8,154.5 L201.5,153.5 L202.3,152.4 L203.1,151.3 L203.9,150.3 L204.7,149.2 L205.5,148.2 L206.3,147.2 L207.1,146.1 L207.9,145.1 L208.7,144.1 L209.5,143.2 L210.4,142.2 L211.2,141.2 L212.1,140.3 L212.9,139.3 L213.8,138.4 L214.6,137.5 L215.5,136.5 L216.4,135.6 L217.3,134.8 L218.1,133.9 L219.0,133.0 L219.9,132.1 L220.8,131.3 L221.7,130.5 L222.6,129.6 L223.6,128.8 L224.5,128.0 L225.4,127.2 L226.3,126.4 L227.3,125.7 L228.2,124.9 L229.1,124.2 L230.1,123.4 L231.0,122.7 L232.0,122.0 L232.9,121.3 L233.9,120.6 L234.9,119.9 L235.8,119.3 L236.8,118.6 L237.8,118.0 L238.8,117.4 L239.7,116.7 L240.7,116.1 L241.7,115.5 L242.7,115.0 L243.7,114.4 L244.7,113.8 L245.7,113.3 L246.7,112.8 L247.7,112.2 L248.7,111.7 L249.7,111.2 L250.8,110.7 L251.8,110.3 L252.8,109.8 L253.8,109.4 L254.9,108.9 L255.9,108.5 L256.9,108.1 L258.0,107.7 L259.0,107.3 L260.0,106.9 L261.1,106.5 L262.1,106.2 L263.2,105.9 L264.2,105.5 L265.2,105.2 L266.3,104.9 L267.3,104.6 L268.4,104.4 L269.4,104.1 L270.5,103.8 L271.6,103.6 L272.6,103.4 L273.7,103.2 L274.7,103.0 L275.8,102.8 L276.9,102.6 L277.9,102.4 L279.0,102.3 L280.0,102.1 L281.1,102.0" fill="none" stroke="#fff" stroke-width="1"/>
<path d="M291.8,80.0 L293.0,80.0 L294.2,80.0 L295.5,80.1 L296.7,80.1 L297.9,80.2 L299.1,80.3 L300.3,80.4 L301.6,80.5 L302.8,80.6 L304.0,80.7 L305.2,80.9 L306.4,81.1 L307.6,81.2 L308.8,81.4 L310.0,81.7 L311.3,81.9 L312.5,82.1 L313.7,82.4 L314.9,82.7 L316.1,82.9 L317.3,83.2 L318.5,83.6 L319.7,83.9 L320.9,84.2 L322.1,84.6 L323.2,85.0 L324.4,85.3 L325.6,85.7 L326.8,86.2 L328.0,86.6 L329.2,87.0 L330.3,87.5 L331.5,88.0 L332.7,88.5 L333.8,89.0 L335.0,89.5 L336.2,90.0 L337.3,90.5 L338.5,91.1 L339.6,91.7 L340.8,92.3 L341.9,92.9 L343.0,93.5 L344.2,94.1 L345.3,94.7 L346.4,95.4 L347.6,96.1 L348.7,96.7 L349.8,97.4 L350.9,98.1 L352.0,98.9 L353.1,99.6 L354.2,100.3 L355.3,101.1 L356.4,101.9 L357.4,102.7 L358.5,103.5 L359.6,104.3 L360.7,105.1 L361.7,105.9 L362.8,106.8 L363.8,107.6 L364.9,108.5 L365.9,109.4 L366.9,110.3 L368.0,111.2 L369.0,112.2 L370.0,113.1 L371.0,114.0 L372.0,115.0 L373.0,116.0 L374.0,117.0 L375.0,118.0 L376.0,119.0 L376.9,120.0 L377.9,121.0 L378.8,122.1 L379.8,123.1 L380.7,124.2 L381.7,125.3 L382.6,126.4 L383.5,127.5 L384.5,128.6 L385.4,129.7 L386.3,130.9 L387.2,132.0 L388.1,133.2 L388.9,134.3 L389.8,135.5 L390.7,136.7 L391.5,137.9 L392.4,139.1 L393.2,140.3 L394.1,141.6 L394.9,142.8 L395.7,144.1 L396.5,145.3 L397.3,146.6 L398.1,147.9 L398.9,149.2 L399.7,150.5 L400.5,151.8 L401.3,153.1 L402.0,154.4 L402.8,155.7 L403.5,157.1 L404.2,158.4 L405.0,159.8 L405.7,161.2 L406.4,162.6 L407.1,163.9 L407.8,165.3 L408.4,166.7 L409.1,168.2 L409.8,169.6 L410.4,171.0 L411.1,172.4 L411.7,173.9 L412.3,175.3 L412.9,176.8 L413.5,178.3 L414.1,179.7 L414.7,181.2 L415.3,182.7 L415.9,184.2 L416.4,185.7 L417.0,187.2 L417.5,188.7 L418.1,190.3 L418.6,191.8 L419.1,193.3 L419.6,194.9 L420.1,196.4 L420.6,198.0 L421.0,199.5 L421.5,201.1 L422.0,202.7 L422.4,204.2 L422.8,205.8 L423.3,207.4 L423.7,209.0 L424.1,210.6 L424.5,212.2 L424.9,213.8 L425.2,215.4 L425.6,217.0 L425.9,218.6 L426.3,220.3 L426.6,221.9 L426.9,223.5 L427.3,225.2 L427.6,226.8 L427.8,228.4 L428.1,230.1 L428.4,231.7 L428.7,233.4 L428.9,235.0 L429.1,236.7 L429.4,238.4 L429.6,240.0 L429.8,241.7 L430.0,243.4 L430.2,245.0 L430.3,246.7 L430.5,248.4 L430.7,250.1 L430.8,251.7 L430.9,253.4 L431.0,255.1 L431.2,256.8 L431.3,258.5 L431.3,260.2 L431.4,261.8 L431.5,263.5 L431.5,265.2 L431.6,266.9 L431.6,268.6 L431.6,270.3 L431.6,272.0 L431.6,273.7 L431.6,275.4 L431.6,277.1 L431.6,278.7 L431.5,280.4 L431.5,282.1 L431.4,283.8 L431.3,285.5 L431.2,287.2 L431.1,288.9 L431.0,290.5 L430.9,292.2 L430.8,293.9 L430.6,295.6 L430.5,297.2 L430.3,298.9 L430.1,300.6 L430.0,302.3 L429.8,303.9 L429.6,305.6 L429.3,307.2 L429.1,308.9 L428.9,310.5 L428.6,312.2 L428.3,313.8 L428.1,315.5 L427.8,317.1 L427.5,318.8 L427.2,320.4 L426.9,322.0 L426.6,323.6 L426.2,325.3 L425.9,326.9 L425.5,328.5 L425.2,330.1 L424.8,331.7 L424.4,333.3 L424.0,334.9 L423.6,336.5 L423.2,338.1 L422.8,339.6 L422.3,341.2 L421.9,342.8 L421.4,344.3 L421.0,345.9 L420.5,347.4 L420.0,349.0 L419.5,350.5 L419.0,352.0 L418.5,353.6 L418.0,355.1 L417.5,356.6 L416.9,358.1 L416.4,359.6 L415.8,361.1 L415.3,362.6 L414.7,364.1 L414.1,365.5 L413.5,367.0 L412.9,368.5 L412.3,369.9 L411.7,371.4 L411.1,372.8 L410.5,374.2 L409.8,375.7 L409.2,377.1 L408.5,378.5 L407.8,379.9 L407.2,381.3 L406.5,382.7 L405.8,384.1 L405.1,385.4 L404.4,386.8 L403.7,388.2 L403.0,389.5 L402.3,390.8 L401.5,392.2 L400.8,393.5 L400.0,394.8 L399.3,396.1 L398.5,397.4 L397.7,398.7 L397.0,400.0 L396.2,401.3 L395.4,402.5 L394.6,403.8 L393.8,405.1 L392.9,406.3 L392.1,407.5 L391.3,408.7 L390.4,410.0 L389.6,411.2 L388.7,412.3 L387.9,413.5 L387.0,414.7 L386.1,415.9 L385.3,417.0 L384.4,418.2 L383.5,419.3 L382.6,420.4 L381.6,421.5 L380.7,422.6 L379.8,423.7 L378.9,424.8 L377.9,425.9 L377.0,426.9 L376.0,428.0 L375.1,429.0 L374.1,430.0 L373.1,431.0 L372.2,432.0 L371.2,433.0 L370.2,434.0 L369.2,434.9 L368.2,435.9 L367.2,436.8 L366.2,437.8 L365.1,438.7 L364.1,439.6 L363.1,440.5 L362.0,441.3 L361.0,442.2 L359.9,443.0 L358.9,443.9 L357.8,444.7 L356.8,445.5 L355.7,446.3 L354.6,447.1 L353.5,447.9 L352.4,448.6 L351.3,449.4 L350.2,450.1 L349.1,450.8 L348.0,451.5 L346.9,452.2 L345.8,452.9 L344.7,453.5 L343.5,454.2 L342.4,454.8 L341.3,455.4 L340.1,456.0 L339.0,456.6 L337.9,457.2 L336.7,457.7 L335.6,458.3 L334.4,458.8 L333.2,459.3 L332.1,459.8 L330.9,460.3 L329.7,460.8 L328.6,461.3 L327.4,461.7 L326.2,462.1 L325.0,462.6 L323.8,463.0 L322.6,463.3 L321.5,463.7 L320.3,464.1 L319.1,464.4 L317.9,464.7 L316.7,465.0 L315.5,465.3 L314.3,465.6 L313.1,465.9 L311.9,466.1 L310.7,466.4 L309.4,466.6 L308.2,466.8 L307.0,467.0 L305.8,467.2 L304.6,467.4 L303.4,467.5 L302.2,467.6 L301.0,467.8 L299.7,467.9 L298.5,468.0 L297.3,468.0 L296.1,468.1 L294.9,468.1 L293.6,468.2 L292.4,468.2 L291.2,468.2 L290.0,468.2 L288.8,468.1 L287.5,468.1 L286.3,468.0 L285.1,468.0 L283.9,467.9 L282.7,467.8 L281.4,467.7 L280.2,467.5 L279.0,467.4 L277.8,467.2 L276.6,467.0 L275.4,466.9 L274.2,466.7 L273.0,466.4 L271.7,466.2 L270.5,465.9 L269.3,465.7 L268.1,465.4 L266.9,465.1 L265.7,464.8 L264.5,464.5 L263.3,464.1 L262.1,463.8 L261.0,463.4 L259.8,463.0 L258.6,462.7 L257.4,462.2 L256.2,461.8 L255.0,461.4 L253.9,460.9 L252.7,460.5 L251.5,460.0 L250.3,459.5 L249.2,459.0 L248.0,458.5 L246.9,457.9 L245.7,457.4 L244.6,456.8 L243.4,456.2 L242.3,455.6 L241.1,455.0 L240.0,454.4 L238.9,453.8 L237.7,453.1 L236.6,452.5 L235.5,451.8 L234.4,451.1 L233.3,450.4 L232.2,449.7 L231.1,449.0 L230.0,448.2 L228.9,447.5 L227.8,446.7 L226.7,445.9 L225.6,445.2 L224.6,444.3 L223.5,443.5 L222.4,442.7 L221.4,441.8 L220.3,441.0 L219.3,440.1 L218.2,439.2 L217.2,438.3 L216.2,437.4 L215.1,436.5 L214.1,435.6 L213.1,434.6 L212.1,433.7 L211.1,432.7 L210.1,431.7 L209.1,430.7 L208.1,429.7 L207.2,428.7 L206.2,427.7 L205.2,426.7 L204.3,425.6 L203.3,424.5 L202.4,423.5 L201.5,422.4 L200.5,421.3 L199.6,420.2 L198.7,419.1 L197.8,417.9 L196.9,416.8 L196.0,415.6 L195.1,414.5 L194.2,413.3 L193.4,412.1 L192.5,410.9 L191.6,409.7 L190.8,408.5 L189.9,407.3 L189.1,406.0 L188.3,404.8 L187.5,403.5 L186.7,402.3 L185.9,401.0 L185.1,399.7 L184.3,398.4 L183.5,397.1 L182.7,395.8 L182.0,394.5 L181.2,393.1 L180.5,391.8 L179.7,390.4 L179.0,389.1 L178.3,387.7 L177.6,386.3 L176.9,385.0 L176.2,383.6 L175.5,382.2 L174.8,380.8 L174.2,379.3 L173.5,377.9 L172.9,376.5 L172.2,375.0 L171.6,373.6 L171.0,372.1 L170.4,370.7 L169.8,369.2 L169.2,367.7 L168.6,366.2 L168.0,364.7 L167.4,363.2 L166.9,361.7 L166.3,360.2 L165.8,358.7 L165.3,357.2 L164.8,355.7 L164.2,354.1 L163.8,352.6 L163.3,351.0 L162.8,349.5 L162.3,347.9 L161.9,346.3 L161.4,344.8 L161.0,343.2 L160.5,341.6 L160.1,340.0 L159.7,338.4 L159.3,336.8 L158.9,335.2 L158.5,333.6 L158.2,332.0 L157.8,330.4 L157.5,328.8 L157.1,327.1 L156.8,325.5 L156.5,323.9 L156.2,322.2 L155.9,320.6 L155.6,319.0 L155.3,317.3 L155.0,315.7 L154.8,314.0 L154.5,312.3 L154.3,310.7 L154.1,309.0 L153.9,307.4 L153.7,305.7 L153.5,304.0 L153.3,302.3 L153.1,300.7 L153.0,299.0 L152.8,297.3 L152.7,295.6 L152.5,294.0 L152.4,292.3 L152.3,290.6 L152.2,288.9 L152.1,287.2 L152.0,285.5 L152.0,283.8 L151.9,282.1 L151.9,280.5 L151.8,278.8 L151.8,277.1 L151.8,275.4 L151.8,273.7 L151.8,272.0 L151.8,270.3 L151.9,268.6 L151.9,266.9 L151.9,265.2 L152.0,263.6 L152.1,261.9 L152.2,260.2 L152.3,258.5 L152.4,256.8 L152.5,255.1 L152.6,253.4 L152.7,251.8 L152.9,250.1 L153.0,248.4 L153.2,246.7 L153.4,245.0 L153.6,243.4 L153.8,241.7 L154.0,240.0 L154.2,238.4 L154.4,236.7 L154.7,235.1 L154.9,233.4 L155.2,231.8 L155.4,230.1 L155.7,228.5 L156.0,226.8 L156.3,225.2 L156.6,223.5 L157.0,221.9 L157.3,220.3 L157.6,218.7 L158.0,217.0 L158.3,215.4 L158.7,213.8 L159.1,212.2 L159.5,210.6 L159.9,209.0 L160.3,207.4 L160.7,205.8 L161.2,204.3 L161.6,202.7 L162.1,201.1 L162.5,199.5 L163.0,198.0 L163.5,196.4 L164.0,194.9 L164.5,193.3 L165.0,191.8 L165.5,190.3 L166.1,188.8 L166.6,187.2 L167.1,185.7 L167.7,184.2 L168.3,182.7 L168.9,181.2 L169.4,179.8 L170.0,178.3 L170.7,176.8 L171.3,175.4 L171.9,173.9 L172.5,172.5 L173.2,171.0 L173.8,169.6 L174.5,168.2 L175.2,166.8 L175.8,165.4 L176.5,164.0 L177.2,162.6 L177.9,161.2 L178.6,159.8 L179.4,158.5 L180.1,157.1 L180.8,155.8 L181.6,154.4 L182.3,153.1 L183.1,151.8 L183.9,150.5 L184.7,149.2 L185.4,147.9 L186.2,146.6 L187.0,145.3 L187.9,144.1 L188.7,142.8 L189.5,141.6 L190.3,140.3 L191.2,139.1 L192.0,137.9 L192.9,136.7 L193.8,135.5 L194.6,134.3 L195.5,133.2 L196.4,132.0 L197.3,130.9 L198.2,129.7 L199.1,128.6 L200.0,127.5 L201.0,126.4 L201.9,125.3 L202.8,124.2 L203.8,123.2 L204.7,122.1 L205.7,121.1 L206.7,120.0 L207.6,119.0 L208.6,118.0 L209.6,117.0 L210.6,116.0 L211.6,115.0 L212.6,114.1 L213.6,113.1 L214.6,112.2 L215.6,111.2 L216.7,110.3 L217.7,109.4 L218.7,108.5 L219.8,107.7 L220.8,106.8 L221.9,105.9 L222.9,105.1 L224.0,104.3 L225.1,103.5 L226.1,102.7 L227.2,101.9 L228.3,101.1 L229.4,100.3 L230.5,99.6 L231.6,98.9 L232.7,98.1 L233.8,97.4 L234.9,96.7 L236.0,96.1 L237.2,95.4 L238.3,94.7 L239.4,94.1 L240.5,93.5 L241.7,92.9 L242.8,92.3 L244.0,91.7 L245.1,91.1 L246.3,90.6 L247.4,90.0 L248.6,89.5 L249.7,89.0 L250.9,88.5 L252.1,88.0 L253.2,87.5 L254.4,87.0 L255.6,86.6 L256.8,86.2 L258.0,85.8 L259.1,85.4 L260.3,85.0 L261.5,84.6 L262.7,84.2 L263.9,83.9 L265.1,83.6 L266.3,83.2 L267.5,82.9 L268.7,82.7 L269.9,82.4 L271.1,82.1 L272.3,81.9 L273.5,81.7 L274.7,81.4 L276.0,81.2 L277.2,81.1 L278.4,80.9 L279.6,80.7" fill="none" stroke="#15100e" stroke-width="4.1" stroke-dasharray="9.3 4.2"/>
<path d="M291.8,79.6 L293.0,79.5 L294.2,79.6 L295.5,79.6 L296.7,79.6 L297.9,79.7 L299.1,79.7 L300.4,79.8 L301.6,79.9 L302.8,80.0 L304.0,80.1 L305.2,80.3 L306.5,80.4 L307.7,80.6 L308.9,80.8 L310.1,81.0 L311.3,81.2 L312.5,81.4 L313.8,81.7 L315.0,81.9 L316.2,82.2 L317.4,82.5 L318.6,82.8 L319.8,83.1 L321.0,83.4 L322.2,83.7 L323.4,84.1 L324.6,84.5 L325.8,84.8 L327.0,85.2 L328.2,85.7 L329.4,86.1 L330.5,86.5 L331.7,87.0 L332.9,87.5 L334.1,87.9 L335.2,88.4 L336.4,89.0 L337.6,89.5 L338.7,90.0 L339.9,90.6 L341.1,91.1 L342.2,91.7 L343.4,92.3 L344.5,92.9 L345.7,93.6 L346.8,94.2 L347.9,94.9 L349.1,95.5 L350.2,96.2 L351.3,96.9 L352.4,97.6 L353.5,98.3 L354.6,99.0 L355.8,99.8 L356.9,100.5 L358.0,101.3 L359.0,102.1 L360.1,102.9 L361.2,103.7 L362.3,104.5 L363.4,105.3 L364.5,106.2 L365.5,107.0 L366.6,107.9 L367.6,108.8 L368.7,109.6 L369.7,110.5 L370.8,111.5 L371.8,112.4 L372.9,113.3 L373.9,114.3 L374.9,115.2 L375.9,116.2 L376.9,117.2 L377.9,118.2 L378.9,119.2 L379.9,120.2 L380.9,121.2 L381.9,122.3 L382.9,123.3 L383.8,124.4 L384.8,125.5 L385.8,126.5 L386.7,127.6 L387.7,128.8 L388.6,129.9 L389.5,131.0 L390.5,132.1 L391.4,133.3 L392.3,134.5 L393.2,135.6 L394.1,136.8 L395.0,138.0 L395.9,139.2 L396.8,140.4 L397.7,141.6 L398.5,142.9 L399.4,144.1 L400.2,145.4 L401.1,146.6 L401.9,147.9 L402.8,149.2 L403.6,150.5 L404.4,151.8 L405.3,153.1 L406.1,154.4 L406.9,155.7 L407.7,157.1 L408.5,158.4 L409.2,159.8 L410.0,161.1 L410.8,162.5 L411.5,163.9 L412.3,165.3 L413.0,166.7 L413.7,168.1 L414.5,169.6 L415.2,171.0 L415.9,172.4 L416.6,173.9 L417.2,175.4 L417.9,176.8 L418.6,178.3 L419.2,179.8 L419.9,181.3 L420.5,182.8 L421.2,184.3 L421.8,185.9 L422.4,187.4 L423.0,188.9 L423.6,190.5 L424.2,192.0 L424.7,193.6 L425.3,195.2 L425.8,196.8 L426.4,198.4 L426.9,199.9 L427.4,201.6 L427.9,203.2 L428.5,204.8 L428.9,206.4 L429.4,208.0 L429.9,209.7 L430.4,211.3 L430.8,212.9 L431.3,214.6 L431.7,216.3 L432.2,217.9 L432.6,219.6 L433.0,221.3 L433.4,222.9 L433.8,224.6 L434.2,226.3 L434.6,228.0 L434.9,229.7 L435.3,231.4 L435.6,233.1 L436.0,234.8 L436.3,236.6 L436.6,238.3 L436.9,240.0 L437.2,241.8 L437.5,243.5 L437.8,245.2 L438.1,247.0 L438.3,248.7 L438.6,250.5 L438.8,252.3 L439.0,254.0 L439.2,255.8 L439.4,257.6 L439.6,259.3 L439.8,261.1 L440.0,262.9 L440.1,264.7 L440.2,266.5 L440.4,268.3 L440.5,270.1 L440.6,271.8 L440.7,273.6 L440.8,275.4 L440.8,277.2 L440.9,279.0 L441.0,280.9 L441.0,282.7 L441.0,284.5 L441.0,286.3 L441.0,288.1 L441.0,289.9 L441.0,291.7 L441.0,293.5 L440.9,295.3 L440.9,297.2 L440.8,299.0 L440.7,300.8 L440.6,302.6 L440.5,304.4 L440.4,306.2 L440.3,308.0 L440.2,309.9 L440.0,311.7 L439.9,313.5 L439.7,315.3 L439.5,317.1 L439.3,318.9 L439.1,320.7 L438.9,322.5 L438.7,324.3 L438.5,326.1 L438.2,327.9 L438.0,329.7 L437.7,331.5 L437.4,333.3 L437.1,335.1 L436.8,336.9 L436.5,338.7 L436.1,340.5 L435.8,342.2 L435.4,344.0 L435.1,345.8 L434.7,347.6 L434.3,349.3 L433.9,351.1 L433.5,352.8 L433.1,354.6 L432.6,356.3 L432.2,358.1 L431.7,359.8 L431.3,361.6 L430.8,363.3 L430.3,365.0 L429.8,366.7 L429.3,368.5 L428.8,370.2 L428.2,371.9 L427.7,373.6 L427.1,375.3 L426.6,377.0 L426.0,378.7 L425.4,380.3 L424.8,382.0 L424.2,383.7 L423.6,385.3 L423.0,387.0 L422.4,388.7 L421.7,390.3 L421.1,391.9 L420.4,393.6 L419.7,395.2 L419.1,396.8 L418.4,398.4 L417.7,400.0 L416.9,401.6 L416.2,403.2 L415.5,404.8 L414.7,406.4 L414.0,407.9 L413.2,409.5 L412.4,411.0 L411.6,412.6 L410.8,414.1 L410.0,415.6 L409.2,417.1 L408.3,418.6 L407.5,420.1 L406.6,421.6 L405.7,423.0 L404.9,424.5 L404.0,425.9 L403.1,427.3 L402.1,428.7 L401.2,430.2 L400.3,431.5 L399.3,432.9 L398.4,434.3 L397.4,435.7 L396.5,437.0 L395.5,438.3 L394.5,439.7 L393.5,441.0 L392.5,442.3 L391.5,443.5 L390.4,444.8 L389.4,446.1 L388.4,447.3 L387.3,448.6 L386.3,449.8 L385.2,451.0 L384.1,452.2 L383.0,453.3 L381.9,454.5 L380.8,455.7 L379.7,456.8 L378.6,457.9 L377.4,459.0 L376.3,460.1 L375.2,461.2 L374.0,462.2 L372.8,463.3 L371.7,464.3 L370.5,465.3 L369.3,466.3 L368.1,467.3 L366.9,468.2 L365.7,469.2 L364.5,470.1 L363.3,471.0 L362.0,471.9 L360.8,472.7 L359.6,473.6 L358.3,474.4 L357.1,475.3 L355.8,476.1 L354.5,476.9 L353.3,477.6 L352.0,478.4 L350.7,479.2 L349.4,479.9 L348.2,480.6 L346.9,481.3 L345.6,482.0 L344.3,482.6 L342.9,483.3 L341.6,483.9 L340.3,484.5 L339.0,485.1 L337.7,485.7 L336.3,486.3 L335.0,486.8 L333.7,487.3 L332.3,487.9 L331.0,488.4 L329.7,488.8 L328.3,489.3 L327.0,489.7 L325.6,490.2 L324.2,490.6 L322.9,491.0 L321.5,491.4 L320.2,491.7 L318.8,492.1 L317.4,492.4 L316.0,492.7 L314.7,493.0 L313.3,493.3 L311.9,493.5 L310.5,493.8 L309.2,494.0 L307.8,494.2 L306.4,494.4 L305.0,494.5 L303.6,494.7 L302.2,494.8 L300.8,495.0 L299.5,495.1 L298.1,495.2 L296.7,495.2 L295.3,495.3 L293.9,495.3 L292.5,495.3 L291.1,495.3 L289.7,495.3 L288.3,495.3 L286.9,495.2 L285.6,495.1 L284.2,495.0 L282.8,494.9 L281.4,494.8 L280.0,494.7 L278.6,494.5 L277.2,494.3 L275.9,494.1 L274.5,493.9 L273.1,493.7 L271.7,493.5 L270.3,493.2 L269.0,492.9 L267.6,492.6 L266.2,492.3 L264.8,492.0 L263.5,491.7 L262.1,491.3 L260.7,490.9 L259.4,490.5 L258.0,490.1 L256.7,489.7 L255.3,489.2 L254.0,488.8 L252.6,488.3 L251.3,487.8 L249.9,487.3 L248.6,486.8 L247.3,486.2 L246.0,485.6 L244.6,485.1 L243.3,484.5 L242.0,483.8 L240.7,483.2 L239.4,482.5 L238.1,481.9 L236.8,481.2 L235.5,480.4 L234.2,479.7 L233.0,479.0 L231.7,478.2 L230.4,477.4 L229.2,476.6 L227.9,475.8 L226.7,474.9 L225.4,474.1 L224.2,473.2 L223.0,472.3 L221.7,471.4 L220.5,470.5 L219.3,469.5 L218.1,468.6 L216.9,467.6 L215.7,466.7 L214.6,465.7 L213.4,464.7 L212.2,463.6 L211.1,462.6 L209.9,461.6 L208.8,460.5 L207.6,459.4 L206.5,458.3 L205.4,457.3 L204.2,456.1 L203.1,455.0 L202.0,453.9 L200.9,452.7 L199.8,451.6 L198.7,450.4 L197.7,449.2 L196.6,448.0 L195.5,446.8 L194.5,445.6 L193.4,444.4 L192.4,443.2 L191.3,441.9 L190.3,440.7 L189.3,439.4 L188.3,438.1 L187.3,436.8 L186.3,435.5 L185.3,434.2 L184.3,432.8 L183.4,431.5 L182.4,430.1 L181.5,428.8 L180.5,427.4 L179.6,426.0 L178.7,424.6 L177.8,423.2 L176.9,421.8 L176.0,420.3 L175.1,418.9 L174.2,417.5 L173.3,416.0 L172.5,414.5 L171.6,413.0 L170.8,411.5 L170.0,410.0 L169.1,408.5 L168.3,407.0 L167.5,405.5 L166.7,403.9 L166.0,402.4 L165.2,400.8 L164.4,399.3 L163.7,397.7 L163.0,396.1 L162.2,394.5 L161.5,392.9 L160.8,391.3 L160.1,389.7 L159.4,388.1 L158.7,386.4 L158.1,384.8 L157.4,383.1 L156.8,381.5 L156.2,379.8 L155.5,378.1 L154.9,376.4 L154.3,374.8 L153.8,373.1 L153.2,371.4 L152.6,369.7 L152.1,367.9 L151.5,366.2 L151.0,364.5 L150.5,362.8 L150.0,361.0 L149.5,359.3 L149.0,357.5 L148.5,355.8 L148.1,354.0 L147.6,352.2 L147.2,350.5 L146.7,348.7 L146.3,346.9 L145.9,345.1 L145.5,343.4 L145.1,341.6 L144.8,339.8 L144.4,338.0 L144.1,336.2 L143.7,334.4 L143.4,332.5 L143.1,330.7 L142.8,328.9 L142.5,327.1 L142.2,325.3 L142.0,323.4 L141.7,321.6 L141.5,319.8 L141.3,317.9 L141.1,316.1 L140.9,314.3 L140.7,312.4 L140.5,310.6 L140.3,308.7 L140.2,306.9 L140.0,305.1 L139.9,303.2 L139.8,301.4 L139.7,299.5 L139.6,297.7 L139.5,295.8 L139.4,294.0 L139.3,292.1 L139.3,290.3 L139.2,288.4 L139.2,286.6 L139.2,284.7 L139.2,282.9 L139.2,281.0 L139.2,279.2 L139.2,277.3 L139.2,275.5 L139.2,273.7 L139.3,271.8 L139.3,270.0 L139.4,268.1 L139.5,266.3 L139.6,264.5 L139.6,262.6 L139.8,260.8 L139.9,258.9 L140.0,257.1 L140.1,255.3 L140.3,253.5 L140.4,251.6 L140.6,249.8 L140.8,248.0 L141.0,246.2 L141.2,244.3 L141.4,242.5 L141.6,240.7 L141.8,238.9 L142.1,237.1 L142.3,235.3 L142.6,233.5 L142.9,231.7 L143.2,229.9 L143.5,228.1 L143.8,226.3 L144.1,224.6 L144.4,222.8 L144.8,221.0 L145.1,219.2 L145.5,217.5 L145.9,215.7 L146.3,214.0 L146.7,212.2 L147.1,210.5 L147.5,208.7 L147.9,207.0 L148.4,205.3 L148.8,203.6 L149.3,201.8 L149.8,200.1 L150.3,198.4 L150.8,196.7 L151.3,195.0 L151.8,193.3 L152.3,191.7 L152.9,190.0 L153.4,188.3 L154.0,186.7 L154.5,185.0 L155.1,183.4 L155.7,181.7 L156.3,180.1 L156.9,178.5 L157.6,176.9 L158.2,175.3 L158.8,173.7 L159.5,172.1 L160.1,170.5 L160.8,168.9 L161.5,167.3 L162.2,165.8 L162.9,164.2 L163.6,162.7 L164.3,161.1 L165.0,159.6 L165.7,158.1 L166.5,156.6 L167.2,155.1 L168.0,153.6 L168.7,152.1 L169.5,150.6 L170.3,149.2 L171.1,147.7 L171.9,146.2 L172.7,144.8 L173.5,143.4 L174.4,142.0 L175.2,140.6 L176.1,139.2 L176.9,137.8 L177.8,136.4 L178.7,135.1 L179.6,133.7 L180.5,132.4 L181.4,131.1 L182.3,129.7 L183.2,128.4 L184.2,127.2 L185.1,125.9 L186.1,124.6 L187.0,123.4 L188.0,122.1 L189.0,120.9 L189.9,119.7 L190.9,118.5 L191.9,117.3 L192.9,116.2 L194.0,115.0 L195.0,113.8 L196.0,112.7 L197.0,111.6 L198.1,110.5 L199.1,109.4 L200.2,108.3 L201.2,107.2 L202.3,106.2 L203.4,105.1 L204.5,104.1 L205.5,103.0 L206.6,102.0 L207.7,101.0 L208.8,100.0 L209.9,99.0 L211.0,98.0 L212.1,97.1 L213.2,96.1 L214.4,95.2 L215.5,94.2 L216.6,93.3 L217.8,92.4 L218.9,91.5 L220.0,90.6 L221.2,89.8 L222.4,88.9 L223.5,88.0 L224.7,87.2 L225.9,86.4 L227.0,85.6 L228.2,84.8 L229.4,84.0 L230.6,83.2 L231.8,82.5 L233.0,81.7 L234.2,81.0 L235.4,80.3 L236.6,79.6 L237.8,78.9 L239.0,78.2 L240.2,77.5 L241.5,76.8 L242.7,76.2 L243.9,75.6 L245.2,75.0 L246.4,74.3 L247.7,73.8 L248.9,73.2 L250.2,72.6 L251.4,72.1 L252.7,71.5 L254.0,71.0 L255.2,70.5 L256.5,70.0 L257.8,69.5 L259.0,69.1 L260.3,68.6 L261.6,68.2 L262.9,67.8 L264.2,67.4 L265.5,67.0 L266.8,66.7 L268.1,66.3 L269.4,66.0 L270.7,65.7 L272.0,65.4 L273.3,65.2 L274.6,64.9 L275.9,64.7 L277.2,64.5 L278.6,64.3" fill="none" stroke="#3a4296" stroke-width="3" stroke-dasharray="10 2.9 2.2 2.9"/>
<path d="M291.8,80.4 L293.0,80.5 L294.2,80.5 L295.5,80.5 L296.7,80.6 L297.9,80.7 L299.1,80.8 L300.3,80.9 L301.5,81.0 L302.7,81.2 L303.9,81.3 L305.2,81.5 L306.4,81.7 L307.6,81.9 L308.8,82.1 L310.0,82.3 L311.2,82.6 L312.4,82.8 L313.6,83.1 L314.8,83.4 L316.0,83.7 L317.2,84.0 L318.4,84.4 L319.6,84.7 L320.7,85.1 L321.9,85.4 L323.1,85.8 L324.3,86.2 L325.5,86.7 L326.6,87.1 L327.8,87.5 L329.0,88.0 L330.1,88.5 L331.3,89.0 L332.5,89.5 L333.6,90.0 L334.8,90.5 L335.9,91.1 L337.1,91.6 L338.2,92.2 L339.3,92.8 L340.5,93.4 L341.6,94.0 L342.7,94.6 L343.8,95.2 L345.0,95.9 L346.1,96.6 L347.2,97.3 L348.3,97.9 L349.4,98.7 L350.5,99.4 L351.6,100.1 L352.6,100.9 L353.7,101.6 L354.8,102.4 L355.9,103.2 L356.9,104.0 L358.0,104.8 L359.0,105.7 L360.1,106.5 L361.1,107.4 L362.1,108.3 L363.2,109.2 L364.2,110.1 L365.2,111.0 L366.2,111.9 L367.2,112.9 L368.2,113.8 L369.2,114.8 L370.1,115.8 L371.1,116.8 L372.1,117.8 L373.0,118.8 L374.0,119.9 L374.9,120.9 L375.8,122.0 L376.8,123.1 L377.7,124.1 L378.6,125.2 L379.5,126.3 L380.4,127.4 L381.3,128.6 L382.2,129.7 L383.0,130.8 L383.9,132.0 L384.8,133.2 L385.6,134.3 L386.4,135.5 L387.3,136.7 L388.1,137.9 L388.9,139.2 L389.7,140.4 L390.5,141.6 L391.3,142.9 L392.1,144.1 L392.9,145.4 L393.6,146.7 L394.4,148.0 L395.1,149.3 L395.8,150.6 L396.6,151.9 L397.3,153.2 L398.0,154.6 L398.7,155.9 L399.4,157.3 L400.0,158.6 L400.7,160.0 L401.4,161.4 L402.0,162.8 L402.7,164.2 L403.3,165.6 L403.9,167.0 L404.5,168.4 L405.1,169.8 L405.7,171.2 L406.3,172.7 L406.8,174.1 L407.4,175.6 L407.9,177.0 L408.5,178.5 L409.0,180.0 L409.5,181.4 L410.0,182.9 L410.5,184.4 L411.0,185.9 L411.5,187.4 L411.9,188.9 L412.4,190.4 L412.8,191.9 L413.2,193.5 L413.7,195.0 L414.1,196.5 L414.5,198.1 L414.8,199.6 L415.2,201.1 L415.6,202.7 L415.9,204.2 L416.3,205.8 L416.6,207.3 L416.9,208.9 L417.3,210.5 L417.6,212.0 L417.9,213.6 L418.1,215.2 L418.4,216.7 L418.7,218.3 L418.9,219.9 L419.2,221.4 L419.4,223.0 L419.6,224.6 L419.8,226.2 L420.0,227.8 L420.2,229.4 L420.4,230.9 L420.6,232.5 L420.7,234.1 L420.9,235.7 L421.0,237.3 L421.1,238.9 L421.2,240.5 L421.4,242.1 L421.4,243.7 L421.5,245.2 L421.6,246.8 L421.7,248.4 L421.7,250.0 L421.8,251.6 L421.8,253.2 L421.9,254.8 L421.9,256.4 L421.9,257.9 L421.9,259.5 L421.9,261.1 L421.9,262.7 L421.9,264.3 L421.8,265.8 L421.8,267.4 L421.8,269.0 L421.7,270.6 L421.6,272.1 L421.6,273.7 L421.5,275.3 L421.4,276.8 L421.3,278.4 L421.2,280.0 L421.1,281.5 L420.9,283.1 L420.8,284.6 L420.7,286.2 L420.5,287.7 L420.3,289.3 L420.2,290.8 L420.0,292.4 L419.8,293.9 L419.6,295.4 L419.4,297.0 L419.1,298.5 L418.9,300.0 L418.7,301.5 L418.4,303.0 L418.1,304.5 L417.9,306.1 L417.6,307.6 L417.3,309.1 L417.0,310.5 L416.7,312.0 L416.4,313.5 L416.1,315.0 L415.7,316.5 L415.4,317.9 L415.0,319.4 L414.7,320.9 L414.3,322.3 L413.9,323.8 L413.5,325.2 L413.1,326.7 L412.7,328.1 L412.3,329.5 L411.9,330.9 L411.5,332.3 L411.0,333.8 L410.6,335.2 L410.1,336.5 L409.6,337.9 L409.2,339.3 L408.7,340.7 L408.2,342.1 L407.7,343.4 L407.2,344.8 L406.7,346.1 L406.1,347.5 L405.6,348.8 L405.1,350.1 L404.5,351.5 L403.9,352.8 L403.4,354.1 L402.8,355.4 L402.2,356.7 L401.7,357.9 L401.1,359.2 L400.5,360.5 L399.9,361.7 L399.2,363.0 L398.6,364.3 L398.0,365.5 L397.4,366.7 L396.7,368.0 L396.1,369.2 L395.4,370.4 L394.8,371.6 L394.1,372.8 L393.5,374.0 L392.8,375.2 L392.1,376.3 L391.4,377.5 L390.7,378.6 L390.0,379.8 L389.3,380.9 L388.6,382.1 L387.9,383.2 L387.1,384.3 L386.4,385.4 L385.7,386.5 L384.9,387.6 L384.2,388.7 L383.4,389.7 L382.6,390.8 L381.9,391.8 L381.1,392.9 L380.3,393.9 L379.5,394.9 L378.7,395.9 L377.9,396.9 L377.1,397.9 L376.3,398.9 L375.5,399.8 L374.6,400.8 L373.8,401.7 L373.0,402.7 L372.1,403.6 L371.3,404.5 L370.4,405.4 L369.6,406.3 L368.7,407.2 L367.8,408.0 L366.9,408.9 L366.1,409.7 L365.2,410.6 L364.3,411.4 L363.4,412.2 L362.5,413.0 L361.6,413.8 L360.7,414.6 L359.8,415.4 L358.8,416.1 L357.9,416.9 L357.0,417.6 L356.1,418.3 L355.1,419.0 L354.2,419.7 L353.3,420.4 L352.3,421.1 L351.4,421.8 L350.4,422.4 L349.5,423.1 L348.5,423.7 L347.5,424.4 L346.6,425.0 L345.6,425.6 L344.6,426.2 L343.7,426.7 L342.7,427.3 L341.7,427.9 L340.7,428.4 L339.7,429.0 L338.7,429.5 L337.7,430.0 L336.7,430.5 L335.7,431.0 L334.7,431.5 L333.7,431.9 L332.7,432.4 L331.7,432.8 L330.7,433.3 L329.7,433.7 L328.7,434.1 L327.7,434.5 L326.7,434.9 L325.6,435.3 L324.6,435.6 L323.6,436.0 L322.6,436.3 L321.5,436.7 L320.5,437.0 L319.5,437.3 L318.5,437.6 L317.4,437.9 L316.4,438.2 L315.3,438.4 L314.3,438.7 L313.3,438.9 L312.2,439.1 L311.2,439.4 L310.1,439.6 L309.1,439.7 L308.1,439.9 L307.0,440.1 L306.0,440.2 L304.9,440.4 L303.9,440.5 L302.8,440.6 L301.8,440.7 L300.7,440.8 L299.7,440.9 L298.6,441.0 L297.6,441.0 L296.5,441.1 L295.5,441.1 L294.4,441.1 L293.4,441.1 L292.3,441.1 L291.3,441.1 L290.2,441.1 L289.2,441.0 L288.1,441.0 L287.1,440.9 L286.0,440.9 L285.0,440.8 L283.9,440.7 L282.9,440.6 L281.9,440.5 L280.8,440.3 L279.8,440.2 L278.7,440.0 L277.7,439.9 L276.6,439.7 L275.6,439.5 L274.6,439.3 L273.5,439.1 L272.5,438.9 L271.4,438.6 L270.4,438.4 L269.4,438.1 L268.3,437.8 L267.3,437.6 L266.3,437.3 L265.3,437.0 L264.2,436.6 L263.2,436.3 L262.2,436.0 L261.2,435.6 L260.2,435.3 L259.2,434.9 L258.1,434.5 L257.1,434.1 L256.1,433.7 L255.1,433.3 L254.1,432.8 L253.1,432.4 L252.1,431.9 L251.1,431.5 L250.1,431.0 L249.1,430.5 L248.1,430.0 L247.2,429.5 L246.2,429.0 L245.2,428.4 L244.2,427.9 L243.2,427.3 L242.3,426.8 L241.3,426.2 L240.4,425.6 L239.4,425.0 L238.4,424.4 L237.5,423.8 L236.5,423.1 L235.6,422.5 L234.7,421.8 L233.7,421.1 L232.8,420.4 L231.9,419.7 L231.0,419.0 L230.0,418.3 L229.1,417.6 L228.2,416.8 L227.3,416.1 L226.4,415.3 L225.5,414.5 L224.6,413.7 L223.7,412.9 L222.9,412.1 L222.0,411.3 L221.1,410.5 L220.3,409.6 L219.4,408.8 L218.6,407.9 L217.7,407.0 L216.9,406.2 L216.0,405.3 L215.2,404.4 L214.4,403.4 L213.5,402.5 L212.7,401.6 L211.9,400.7 L211.1,399.7 L210.3,398.8 L209.5,397.8 L208.7,396.8 L207.9,395.8 L207.2,394.8 L206.4,393.8 L205.6,392.8 L204.8,391.8 L204.1,390.8 L203.3,389.8 L202.6,388.7 L201.8,387.7 L201.1,386.6 L200.3,385.6 L199.6,384.5 L198.9,383.4 L198.2,382.4 L197.4,381.3 L196.7,380.2 L196.0,379.1 L195.3,377.9 L194.6,376.8 L193.9,375.7 L193.3,374.6 L192.6,373.4 L191.9,372.3 L191.2,371.1 L190.6,370.0 L189.9,368.8 L189.3,367.6 L188.6,366.4 L188.0,365.2 L187.3,364.0 L186.7,362.8 L186.1,361.6 L185.4,360.4 L184.8,359.2 L184.2,357.9 L183.6,356.7 L183.0,355.4 L182.4,354.2 L181.9,352.9 L181.3,351.6 L180.7,350.3 L180.2,349.1 L179.6,347.8 L179.1,346.5 L178.6,345.1 L178.0,343.8 L177.5,342.5 L177.0,341.2 L176.5,339.8 L176.0,338.5 L175.5,337.1 L175.1,335.7 L174.6,334.4 L174.1,333.0 L173.7,331.6 L173.3,330.2 L172.8,328.8 L172.4,327.4 L172.0,326.0 L171.6,324.6 L171.2,323.2 L170.8,321.7 L170.5,320.3 L170.1,318.9 L169.7,317.4 L169.4,316.0 L169.1,314.5 L168.8,313.1 L168.5,311.6 L168.2,310.1 L167.9,308.6 L167.6,307.2 L167.3,305.7 L167.1,304.2 L166.8,302.7 L166.6,301.2 L166.4,299.7 L166.2,298.2 L165.9,296.7 L165.8,295.2 L165.6,293.6 L165.4,292.1 L165.2,290.6 L165.1,289.1 L164.9,287.6 L164.8,286.0 L164.7,284.5 L164.6,283.0 L164.5,281.4 L164.4,279.9 L164.3,278.4 L164.2,276.8 L164.2,275.3 L164.1,273.7 L164.1,272.2 L164.0,270.6 L164.0,269.1 L164.0,267.6 L164.0,266.0 L164.0,264.5 L164.1,262.9 L164.1,261.4 L164.1,259.8 L164.2,258.3 L164.3,256.7 L164.3,255.2 L164.4,253.6 L164.5,252.1 L164.6,250.5 L164.8,249.0 L164.9,247.5 L165.0,245.9 L165.2,244.4 L165.4,242.9 L165.5,241.3 L165.7,239.8 L165.9,238.3 L166.1,236.7 L166.3,235.2 L166.6,233.7 L166.8,232.2 L167.1,230.7 L167.3,229.1 L167.6,227.6 L167.9,226.1 L168.2,224.6 L168.5,223.1 L168.8,221.6 L169.1,220.2 L169.5,218.7 L169.8,217.2 L170.2,215.7 L170.5,214.3 L170.9,212.8 L171.3,211.3 L171.7,209.9 L172.1,208.4 L172.5,207.0 L172.9,205.5 L173.4,204.1 L173.8,202.7 L174.3,201.3 L174.7,199.8 L175.2,198.4 L175.7,197.0 L176.2,195.6 L176.7,194.2 L177.2,192.8 L177.7,191.5 L178.2,190.1 L178.8,188.7 L179.3,187.4 L179.9,186.0 L180.4,184.7 L181.0,183.3 L181.6,182.0 L182.2,180.7 L182.8,179.4 L183.4,178.1 L184.0,176.8 L184.6,175.5 L185.3,174.2 L185.9,172.9 L186.5,171.7 L187.2,170.4 L187.9,169.1 L188.5,167.9 L189.2,166.7 L189.9,165.5 L190.6,164.2 L191.3,163.0 L192.1,161.9 L192.8,160.7 L193.5,159.5 L194.2,158.3 L195.0,157.2 L195.7,156.0 L196.5,154.9 L197.3,153.8 L198.1,152.7 L198.8,151.5 L199.6,150.4 L200.4,149.4 L201.2,148.3 L202.0,147.2 L202.9,146.2 L203.7,145.1 L204.5,144.1 L205.3,143.0 L206.2,142.0 L207.0,141.0 L207.9,140.0 L208.7,139.0 L209.6,138.1 L210.5,137.1 L211.4,136.1 L212.2,135.2 L213.1,134.3 L214.0,133.3 L214.9,132.4 L215.8,131.5 L216.7,130.6 L217.7,129.8 L218.6,128.9 L219.5,128.0 L220.4,127.2 L221.4,126.4 L222.3,125.5 L223.3,124.7 L224.2,123.9 L225.2,123.1 L226.1,122.3 L227.1,121.6 L228.1,120.8 L229.0,120.1 L230.0,119.4 L231.0,118.6 L232.0,117.9 L233.0,117.2 L234.0,116.5 L235.0,115.9 L236.0,115.2 L237.0,114.6 L238.0,113.9 L239.0,113.3 L240.0,112.7 L241.1,112.1 L242.1,111.5 L243.1,110.9 L244.1,110.4 L245.2,109.8 L246.2,109.3 L247.3,108.8 L248.3,108.3 L249.4,107.8 L250.4,107.3 L251.5,106.8 L252.5,106.3 L253.6,105.9 L254.6,105.4 L255.7,105.0 L256.8,104.6 L257.8,104.2 L258.9,103.8 L260.0,103.4 L261.1,103.1 L262.1,102.7 L263.2,102.4 L264.3,102.0 L265.4,101.7 L266.5,101.4 L267.6,101.2 L268.7,100.9 L269.8,100.6 L270.8,100.4 L271.9,100.1 L273.0,99.9 L274.1,99.7 L275.2,99.5 L276.3,99.3 L277.4,99.2 L278.5,99.0 L279.6,98.9 L280.7,98.7" fill="none" stroke="#3a4296" stroke-width="3" stroke-dasharray="10 2.9 2.2 2.9" stroke-dashoffset="11"/>
<line x1="123.6" y1="210.8" x2="194" y2="217.9" stroke="#15100e" stroke-width="5" stroke-dasharray="8 3.5 1.8 3.5"/>
<circle cx="291.1" cy="80" r="7.6" fill="none" stroke="#e8373a" stroke-width="1"/>
<rect x="92.2" y="11.8" width="601.4" height="486.7" fill="none" stroke="#15100e" stroke-width="1.9"/>
<line x1="92.2" y1="80.0" x2="98.4" y2="80.0" stroke="#15100e" stroke-width="1.8"/>
<line x1="92.2" y1="149.0" x2="98.4" y2="149.0" stroke="#15100e" stroke-width="1.8"/>
<line x1="92.2" y1="218.7" x2="98.4" y2="218.7" stroke="#15100e" stroke-width="1.8"/>
<line x1="92.2" y1="288.9" x2="98.4" y2="288.9" stroke="#15100e" stroke-width="1.8"/>
<line x1="92.2" y1="359.0" x2="98.4" y2="359.0" stroke="#15100e" stroke-width="1.8"/>
<line x1="92.2" y1="428.6" x2="98.4" y2="428.6" stroke="#15100e" stroke-width="1.8"/>
<line x1="190.3" y1="498.5" x2="190.3" y2="491.5" stroke="#15100e" stroke-width="1.8"/>
<line x1="291.8" y1="498.5" x2="291.8" y2="491.5" stroke="#15100e" stroke-width="1.8"/>
<line x1="392.5" y1="498.5" x2="392.5" y2="491.5" stroke="#15100e" stroke-width="1.8"/>
<line x1="492.1" y1="498.5" x2="492.1" y2="491.5" stroke="#15100e" stroke-width="1.8"/>
<line x1="592.7" y1="498.5" x2="592.7" y2="491.5" stroke="#15100e" stroke-width="1.8"/>
<text x="78.6" y="19.8" text-anchor="end" class="n">2</text>
<text x="78.6" y="89.4" text-anchor="end" class="n">0</text>
<text x="78.6" y="158.4" text-anchor="end" class="n"><tspan dy="3.1">−</tspan><tspan dy="-3.1">2</tspan></text>
<text x="78.6" y="228.1" text-anchor="end" class="n"><tspan dy="3.1">−</tspan><tspan dy="-3.1">4</tspan></text>
<text x="78.6" y="298.3" text-anchor="end" class="n"><tspan dy="3.1">−</tspan><tspan dy="-3.1">6</tspan></text>
<text x="78.6" y="368.4" text-anchor="end" class="n"><tspan dy="3.1">−</tspan><tspan dy="-3.1">8</tspan></text>
<text x="78.6" y="438.0" text-anchor="end" class="n"><tspan dy="3.1">−</tspan><tspan dy="-3.1">10</tspan></text>
<text x="78.6" y="507.7" text-anchor="end" class="n"><tspan dy="3.1">−</tspan><tspan dy="-3.1">12</tspan></text>
<text x="86.3" y="528.4" text-anchor="middle" class="n"><tspan dy="3.1">−</tspan><tspan dy="-3.1">4</tspan></text>
<text x="189.3" y="528.4" text-anchor="middle" class="n"><tspan dy="3.1">−</tspan><tspan dy="-3.1">2</tspan></text>
<text x="290.8" y="528.4" text-anchor="middle" class="n">0</text>
<text x="391.5" y="528.4" text-anchor="middle" class="n">2</text>
<text x="491.1" y="528.4" text-anchor="middle" class="n">4</text>
<text x="591.7" y="528.4" text-anchor="middle" class="n">6</text>
<text x="694.9" y="528.4" text-anchor="middle" class="n">8</text>
<text x="362.6" y="562.6" class="n"><tspan font-style="italic">x</tspan>/km</text>
<text transform="translate(20,291.2) rotate(-90)" class="n"><tspan font-style="italic">y</tspan>/km</text>
<text x="204" y="234.8" class="n"><tspan font-style="italic">t</tspan> <tspan x="218.3">=</tspan> <tspan x="242.8">0.8</tspan><tspan font-style="italic" x="279">T</tspan></text>
<circle cx="459.4" cy="40.4" r="8" fill="none" stroke="#e8373a" stroke-width="1"/>
<line x1="437" y1="70" x2="479" y2="70" stroke="#15100e" stroke-width="4.4" stroke-dasharray="6 2.8"/>
<line x1="437" y1="102" x2="479" y2="102" stroke="#3a4296" stroke-width="2.8" stroke-dasharray="8 3.2 2.4 3.2"/>
<line x1="437" y1="133.4" x2="479" y2="133.4" stroke="#15100e" stroke-width="7" stroke-dasharray="8 4 1.6 3.2"/>
<line x1="437" y1="163" x2="479" y2="163" stroke="#8c8484" stroke-width="1.3"/>
<text transform="translate(484.5,51.3) scale(1,1)" class="c">初始位置</text>
<text transform="translate(484.5,81.4) scale(1,1)" class="c">标称轨迹</text>
<text transform="translate(484.5,112.4) scale(1,1)" class="c">相对可达区包络</text>
<text transform="translate(484.5,143.4) scale(1,1)" class="c">横截面位置</text>
<text x="484.5" y="171" class="n" style="font-size:28.5px">Monte <tspan x="568.6" textLength="64.7" lengthAdjust="spacing">Carlo</tspan></text>
<text transform="translate(633.5,171.4) scale(0.94,1)" class="c">轨迹</text>
</svg>
</body></html>
